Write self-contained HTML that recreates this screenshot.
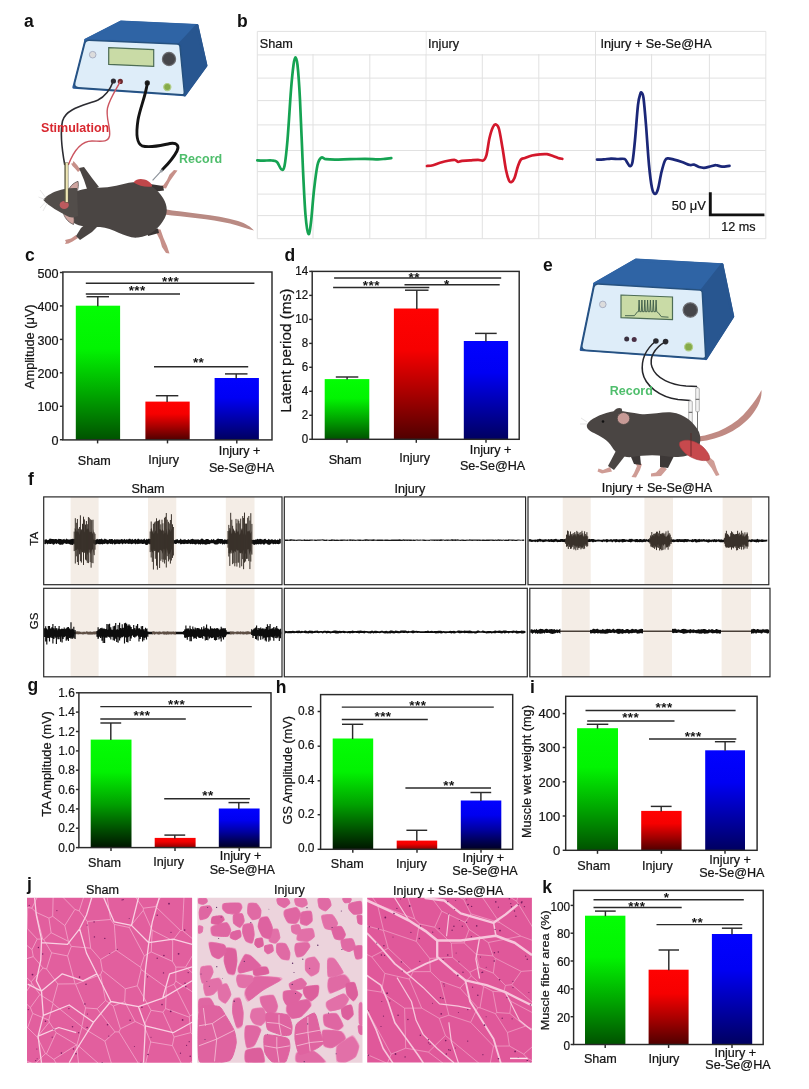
<!DOCTYPE html>
<html lang="en">
<head>
<meta charset="utf-8">
<title>Figure</title>
<style>
html,body{margin:0;padding:0;background:#fff;}
body{width:809px;height:1089px;overflow:hidden;}
svg{display:block;}
svg text{font-family:"Liberation Sans",sans-serif;stroke:#141414;stroke-width:0.22px;}
svg text[font-weight=bold]{stroke:none;}
</style>
</head>
<body>
<svg width="809" height="1089" viewBox="0 0 809 1089">
<defs><linearGradient id="gG" x1="0" y1="0" x2="0" y2="1"><stop offset="0" stop-color="#04fd04"/><stop offset="0.32" stop-color="#02f402"/><stop offset="0.65" stop-color="#00a800"/><stop offset="1" stop-color="#005200"/></linearGradient><linearGradient id="gR" x1="0" y1="0" x2="0" y2="1"><stop offset="0" stop-color="#ff0202"/><stop offset="0.32" stop-color="#f60000"/><stop offset="0.65" stop-color="#a80000"/><stop offset="1" stop-color="#500000"/></linearGradient><linearGradient id="gB" x1="0" y1="0" x2="0" y2="1"><stop offset="0" stop-color="#0202ff"/><stop offset="0.32" stop-color="#0000f4"/><stop offset="0.65" stop-color="#0000ac"/><stop offset="1" stop-color="#000060"/></linearGradient><linearGradient id="gGk" x1="0" y1="0" x2="0" y2="1"><stop offset="0" stop-color="#04fd04"/><stop offset="0.3" stop-color="#02f202"/><stop offset="0.6" stop-color="#00a000"/><stop offset="0.85" stop-color="#004800"/><stop offset="1" stop-color="#001600"/></linearGradient><linearGradient id="gRk" x1="0" y1="0" x2="0" y2="1"><stop offset="0" stop-color="#ff0202"/><stop offset="0.4" stop-color="#f00000"/><stop offset="1" stop-color="#8a0000"/></linearGradient><linearGradient id="gBk" x1="0" y1="0" x2="0" y2="1"><stop offset="0" stop-color="#0202ff"/><stop offset="0.3" stop-color="#0000f0"/><stop offset="0.6" stop-color="#0000a0"/><stop offset="0.85" stop-color="#000050"/><stop offset="1" stop-color="#000024"/></linearGradient></defs>
<rect width="809" height="1089" fill="#fff"/>
<g id="pa">
<path d="M73.6 87.4 L85.6 40.2 L121 22 L197 25.5 L206 65.5 L184.6 95 Z" fill="#2a5a98" stroke="#2a5a98" stroke-width="2.6" stroke-linejoin="round"/>
<path d="M85.6 40.2 L121 22 L197 25.5 L179.8 44 Z" fill="#2f64a5" stroke="#2f64a5" stroke-width="3" stroke-linejoin="round"/>
<path d="M179.8 44 L197 25.5 L206 65.5 L184.6 95 Z" fill="#285690" stroke="#285690" stroke-width="3" stroke-linejoin="round"/>
<path d="M78.6 87.7Q73.6 87.4 74.8 82.6L84.7 43.6Q85.6 40.2 89.1 40.3L177.3 43.9Q179.8 44 180 46.5L184.3 92Q184.6 95 181.6 94.8Z" fill="#deedf9" stroke="#26517f" stroke-width="1.5" stroke-linejoin="round"/>
<path d="M108.7 47.6 L153.7 49.6 L153.7 66.4 L108.7 64.4 Z" fill="#c9dba6" stroke="#4d6d55" stroke-width="1.2"/>
<circle cx="169" cy="59" r="6.6" fill="#46464a" stroke="#6c6c70" stroke-width="1.2"/>
<circle cx="92.7" cy="54.7" r="3.3" fill="#dcdcdc" stroke="#a9b0c4" stroke-width="1"/>
<circle cx="167.3" cy="87.1" r="3.6" fill="#86ab4a" stroke="#b3cf8a" stroke-width="1.2"/>
<circle cx="113.4" cy="81" r="2.6" fill="#2b2b33"/>
<circle cx="120.3" cy="81.4" r="2.6" fill="#6b2a2e"/>
<circle cx="147.3" cy="82.9" r="2.6" fill="#222"/>
<path d="M113.4 81 C110 90 106 96 98 100 C86 105 66 108 62.5 121 C60 133 62 150 64.8 165" fill="none" stroke="#2c2c32" stroke-width="1.6"/>
<path d="M120.3 81.4 C116 90 110 98 107.5 108 C105.5 118 111 128 109.5 136 C108 143 100 141 92 141 C82 141 74 150 68.3 165" fill="none" stroke="#cc5560" stroke-width="1.4"/>
<path d="M147.3 83 C146 95 140 108 138 120 C136 133 136 143 142 145.8 C150 148.5 160 145.5 170 143.5 C177 142.3 179.5 146 177 151 C174 157 168 164 162.5 169.6" fill="none" stroke="#141414" stroke-width="2.9" stroke-linecap="round"/>
<path d="M162.5 169.6 L152.6 180.4" stroke="#8a9098" stroke-width="1.1" fill="none"/>
<circle cx="161.2" cy="171" r="1.5" fill="#9aa0a6"/>
<text x="41.1" y="131.5" font-size="12.5" fill="#d8272f" font-weight="bold">Stimulation</text>
<text x="179.1" y="163.4" font-size="12.5" fill="#4fbe6c" font-weight="bold">Record</text>
<path d="M164 209 C185 213 215 214 238 221 C246 223.5 251 227 254 230.5 C248 229 240 226 230 223.5 C210 219 185 217 164 214.5 Z" fill="#b98a83"/>
<path d="M158 187 L166 188.5 L170 181 L173.5 176 L177.5 170.5 L174 170 L169.5 174.5 L167 180 L163.5 185 Z" fill="#c79089"/>
<path d="M155 229 L160.5 229.5 L163.5 238 L167 246 L169.5 253.5 L166 253 L162 247 L160 240 L157 234 Z" fill="#c79089"/>
<path d="M80.5 170 L77.5 165.5 L73.5 161 L72.5 163.5 L71 163.5 L72.5 166 L75 168.5 L78 172 Z" fill="#c79089"/>
<path d="M76 235 L71 238.5 L65 240 L66 242 L65 244 L68.5 243.5 L72.5 241.5 L78 238 Z" fill="#c79089"/>
<path d="M79 168 L84 167 L92 178 L99 187 L88 192 L84 180 Z" fill="#4a4543"/>
<path d="M76 236 L81 228 L88 222 L98 226 L92 232 L80 240 Z" fill="#4a4543"/>
<path d="M150 184 L163 186 L164 190.5 L152 192 Z" fill="#3a3534"/>
<path d="M146 230 L158 228.5 L159 233 L148 236 Z" fill="#3a3534"/>
<path d="M72 194 C80 188 92 188 103 187.5 C116 187 128 181 140 182 C150 183 158 190 163 198 C168 206 168 214 163 221 C158 229 150 236 138 237.5 C126 239 114 228 100 227 C90 226.5 80 228 73 222 C67 216 66 201 72 194 Z" fill="#4a4543"/>
<path d="M133.5 182.5 C137 178 143 178.5 148 181 C151 183 152.5 185 152 186.5 C146 187.5 139 186 133.5 182.5 Z" fill="#c0474a"/>
<path d="M67.5 193 C69 187 73 183 78 181.3 C79 186 78 191 75 195 Z" fill="#cfa5a0" stroke="#4a4543" stroke-width="0.7"/>
<path d="M63 211.5 C64 217 67.5 222 73.5 224.5 C75 220 74 215 70.5 211 Z" fill="#cfa5a0" stroke="#4a4543" stroke-width="0.7"/>
<path d="M43.4 200 C45 196.5 51 193.2 57 191 C63 188.8 70 187.6 77 188 L78 216 C74 218 70 218 66 215.5 C60 212 49 206.5 43.4 200 Z" fill="#524d4a"/>
<ellipse cx="64.2" cy="205" rx="4.6" ry="4" fill="#bd5a5e"/>
<path d="M46 198 L40 190 M45 199.5 L38.5 197 M45.5 202 L40 208 M47 203.5 L43 211" stroke="#cfcfcf" stroke-width="0.5" fill="none"/>
<path d="M66.4 162.5 V202.5" stroke="#5a5840" stroke-width="4" fill="none"/>
<path d="M66.8 163 V202" stroke="#efe7b6" stroke-width="2.2" fill="none"/>
</g>
<g id="pb">
<path d="M257.3 31.4V238.7M313 31.4V238.7M369.8 31.4V238.7M426 31.4V238.7M482.3 31.4V238.7M538.8 31.4V238.7M595.5 31.4V238.7M651.6 31.4V238.7M709.4 31.4V238.7M765.8 31.4V238.7M257.3 31.4H765.8M257.3 54.9H765.8M257.3 78.1H765.8M257.3 100.6H765.8M257.3 124.9H765.8M257.3 150.5H765.8M257.3 171.6H765.8M257.3 194.1H765.8M257.3 215.6H765.8M257.3 238.7H765.8" stroke="#e1e1e1" stroke-width="1" fill="none"/>
<rect x="258" y="32" width="167.5" height="22" fill="#fff"/>
<rect x="427" y="32" width="168" height="22" fill="#fff"/>
<rect x="596.2" y="32" width="169" height="22" fill="#fff"/>
<text x="259.7" y="47.7" font-size="12.7" fill="#141414">Sham</text>
<text x="428" y="47.7" font-size="12.7" fill="#141414">Injury</text>
<text x="600.4" y="47.7" font-size="12.7" fill="#141414">Injury + Se-Se@HA</text>
<path d="M257.3 160.3C258.4 160.4 261.6 160.6 264 160.6C266.4 160.6 269.8 160.3 272 160.5C274.2 160.7 275.4 160.5 277 162C278.6 163.5 280.1 168.6 281.3 169.3C282.6 170 283.5 170.9 284.5 166C285.5 161.1 286.4 152.7 287.5 140C288.6 127.3 290 102.5 291 90C292 77.5 292.8 70.4 293.5 65C294.2 59.6 294.7 57.4 295.4 57.4C296.1 57.4 296.7 57.9 297.5 65C298.3 72.1 299.1 82.5 300 100C300.9 117.5 302.1 150.8 303 170C303.9 189.2 304.6 204.3 305.5 215C306.4 225.7 307.6 232.8 308.5 234C309.4 235.2 310.1 229.3 311 222C311.9 214.7 312.9 199.5 314 190C315.1 180.5 316.3 170.4 317.5 165C318.7 159.6 319.9 158.6 321.3 157.6C322.7 156.6 323.7 158.9 326 159.2C328.3 159.5 331 159.6 335 159.6C339 159.6 345 159.3 350 159.2C355 159.1 360.3 158.8 365 158.8C369.7 158.8 374.7 159.3 378 159.3C381.3 159.3 382.8 159 385 158.8C387.2 158.6 390.2 158.3 391.3 158.2" stroke="#15a352" stroke-width="2.7" fill="none" stroke-linecap="round" stroke-linejoin="round"/>
<path d="M427 166C428 165.9 430.8 165.7 433 165.2C435.2 164.7 437.5 163.5 440 162.8C442.5 162.1 445.5 161.3 448 160.8C450.5 160.3 453.3 159.8 455 160C456.7 160.2 456.8 161.7 458 161.8C459.2 161.9 460 161 462 160.8C464 160.6 467.3 160.6 470 160.4C472.7 160.2 475.8 159.8 478 159.8C480.2 159.8 482.1 161.2 483.5 160.4C484.9 159.6 485.5 158.7 486.5 155C487.5 151.3 488.4 142.7 489.5 138C490.6 133.3 491.9 129.2 493 127C494.1 124.8 495 124.2 496 124.5C497 124.8 497.9 125.1 499 129C500.1 132.9 501.3 141.2 502.5 148C503.7 154.8 504.9 164.6 506 170C507.1 175.4 508.1 178.5 509 180.5C509.9 182.5 510.6 182.4 511.5 182C512.4 181.6 513.4 180.7 514.5 178C515.6 175.3 516.9 169.1 518 166C519.1 162.9 519.8 160.8 521 159.5C522.2 158.2 523.2 158.7 525 158C526.8 157.3 529.5 156.1 532 155.5C534.5 154.9 537.5 154.5 540 154.3C542.5 154.1 544.8 153.9 547 154.2C549.2 154.5 551.2 155.4 553 156C554.8 156.6 556.5 157.5 558 158C559.5 158.5 561.6 158.7 562.3 158.8" stroke="#d3182c" stroke-width="2.7" fill="none" stroke-linecap="round" stroke-linejoin="round"/>
<path d="M597 159.6C598.2 159.6 601.7 159.6 604 159.4C606.3 159.2 608.7 158.7 611 158.6C613.3 158.5 615.7 158.9 618 159C620.3 159.1 623 158.3 624.6 159C626.2 159.7 626.6 161.8 627.5 163C628.4 164.2 629.2 166.4 630 166.2C630.8 166 631.7 166.4 632.5 162C633.3 157.6 634.1 149.5 635 140C635.9 130.5 637.1 112.7 638 105C638.9 97.3 639.7 96 640.3 94C640.9 92 641.1 92 641.6 92.7C642.1 93.4 642.8 92.6 643.5 98C644.2 103.4 645.1 113.8 646 125C646.9 136.2 648 154.5 649 165C650 175.5 651 183.2 652 188C653 192.8 654 193.8 655 194C656 194.2 656.9 192.7 658 189C659.1 185.3 660.3 176.8 661.5 172C662.7 167.2 663.9 162.8 665 160.5C666.1 158.2 666.5 158.5 668 158.3C669.5 158.2 671.7 159 674 159.6C676.3 160.2 679.3 161.1 682 162C684.7 162.9 688 164.6 690 165C692 165.4 692.5 164.3 694 164.6C695.5 164.9 697.3 166.5 699 167C700.7 167.5 702 167.9 704 167.8C706 167.7 709 166.7 711 166.3C713 165.9 714.2 165.1 716 165.2C717.8 165.2 719.8 166.5 722 166.6C724.2 166.7 728.2 165.9 729.5 165.8" stroke="#1b2778" stroke-width="2.7" fill="none" stroke-linecap="round" stroke-linejoin="round"/>
<path d="M710.3 192.2V214.9H764.4" stroke="#111" stroke-width="2.9" fill="none"/>
<text x="705.8" y="209.7" font-size="12.9" fill="#141414" text-anchor="end">50 μV</text>
<text x="721.3" y="230.5" font-size="12.6" fill="#141414">12 ms</text>
</g>
<g id="pc">
<rect x="75.8" y="305.7" width="44.3" height="134.2" fill="url(#gG)"/>
<rect x="145.4" y="401.6" width="44.3" height="38.3" fill="url(#gR)"/>
<rect x="214.6" y="378" width="44.3" height="61.9" fill="url(#gB)"/>
<line x1="97.8" y1="296.7" x2="97.8" y2="306.2" stroke="#2a2a2a" stroke-width="1.45"/>
<line x1="86.5" y1="296.7" x2="109" y2="296.7" stroke="#2a2a2a" stroke-width="1.45"/>
<line x1="167.1" y1="395.7" x2="167.1" y2="402.1" stroke="#2a2a2a" stroke-width="1.45"/>
<line x1="155.8" y1="395.7" x2="178.3" y2="395.7" stroke="#2a2a2a" stroke-width="1.45"/>
<line x1="236.2" y1="373.9" x2="236.2" y2="378.5" stroke="#2a2a2a" stroke-width="1.45"/>
<line x1="225" y1="373.9" x2="247.5" y2="373.9" stroke="#2a2a2a" stroke-width="1.45"/>
<rect x="62.9" y="272" width="209.1" height="167.9" fill="none" stroke="#2a2a2a" stroke-width="1.45"/>
<line x1="59.9" y1="439.7" x2="62.9" y2="439.7" stroke="#2a2a2a" stroke-width="1.45"/>
<text font-size="13" fill="#141414" text-anchor="end" transform="translate(58.6 444.9) scale(0.97 1)">0</text>
<line x1="59.9" y1="406.3" x2="62.9" y2="406.3" stroke="#2a2a2a" stroke-width="1.45"/>
<text font-size="13" fill="#141414" text-anchor="end" transform="translate(58.6 411.4) scale(0.97 1)">100</text>
<line x1="59.9" y1="372.8" x2="62.9" y2="372.8" stroke="#2a2a2a" stroke-width="1.45"/>
<text font-size="13" fill="#141414" text-anchor="end" transform="translate(58.6 378) scale(0.97 1)">200</text>
<line x1="59.9" y1="339.4" x2="62.9" y2="339.4" stroke="#2a2a2a" stroke-width="1.45"/>
<text font-size="13" fill="#141414" text-anchor="end" transform="translate(58.6 344.6) scale(0.97 1)">300</text>
<line x1="59.9" y1="305.9" x2="62.9" y2="305.9" stroke="#2a2a2a" stroke-width="1.45"/>
<text font-size="13" fill="#141414" text-anchor="end" transform="translate(58.6 311.1) scale(0.97 1)">400</text>
<line x1="59.9" y1="272.5" x2="62.9" y2="272.5" stroke="#2a2a2a" stroke-width="1.45"/>
<text font-size="13" fill="#141414" text-anchor="end" transform="translate(58.6 277.7) scale(0.97 1)">500</text>
<line x1="97.6" y1="439.9" x2="97.6" y2="443.4" stroke="#2a2a2a" stroke-width="1.45"/>
<line x1="167.5" y1="439.9" x2="167.5" y2="443.4" stroke="#2a2a2a" stroke-width="1.45"/>
<line x1="236.8" y1="439.9" x2="236.8" y2="443.4" stroke="#2a2a2a" stroke-width="1.45"/>
<line x1="85.8" y1="283.3" x2="254.4" y2="283.3" stroke="#2a2a2a" stroke-width="1.45"/>
<text x="170.6" y="285.6" font-size="13.5" fill="#141414" text-anchor="middle" font-weight="bold" letter-spacing="0.45">***</text>
<line x1="85.8" y1="294" x2="180" y2="294" stroke="#2a2a2a" stroke-width="1.45"/>
<text x="137.2" y="294.9" font-size="13.5" fill="#141414" text-anchor="middle" font-weight="bold" letter-spacing="0.45">***</text>
<line x1="154" y1="366.8" x2="248.2" y2="366.8" stroke="#2a2a2a" stroke-width="1.45"/>
<text x="198.6" y="366.9" font-size="13.5" fill="#141414" text-anchor="middle" font-weight="bold" letter-spacing="0.45">**</text>
<text font-size="12.2" fill="#141414" text-anchor="middle" transform="translate(34.2 346.7) rotate(-90) scale(1.047 1)">Amplitude (μV)</text>
<text x="94.2" y="465.3" font-size="12.6" fill="#141414" text-anchor="middle">Sham</text>
<text x="163.7" y="464.3" font-size="12.6" fill="#141414" text-anchor="middle">Injury</text>
<text x="239.5" y="455" font-size="12.6" fill="#141414" text-anchor="middle">Injury +</text>
<text x="241.6" y="471.5" font-size="12.6" fill="#141414" text-anchor="middle">Se-Se@HA</text>
</g>
<g id="pd">
<rect x="324.7" y="379.1" width="44.6" height="60.2" fill="url(#gG)"/>
<rect x="393.9" y="308.5" width="44.7" height="130.8" fill="url(#gR)"/>
<rect x="463.8" y="341" width="44.3" height="98.3" fill="url(#gB)"/>
<line x1="347.1" y1="377" x2="347.1" y2="379.6" stroke="#2a2a2a" stroke-width="1.45"/>
<line x1="335.8" y1="377" x2="358.3" y2="377" stroke="#2a2a2a" stroke-width="1.45"/>
<line x1="416.8" y1="290.2" x2="416.8" y2="309" stroke="#2a2a2a" stroke-width="1.45"/>
<line x1="405" y1="290.2" x2="428.5" y2="290.2" stroke="#2a2a2a" stroke-width="1.45"/>
<line x1="485.9" y1="333.4" x2="485.9" y2="341.5" stroke="#2a2a2a" stroke-width="1.45"/>
<line x1="475" y1="333.4" x2="496.7" y2="333.4" stroke="#2a2a2a" stroke-width="1.45"/>
<rect x="312.2" y="271.4" width="207" height="167.9" fill="none" stroke="#2a2a2a" stroke-width="1.45"/>
<line x1="309.2" y1="439.3" x2="312.2" y2="439.3" stroke="#2a2a2a" stroke-width="1.45"/>
<text font-size="12.3" fill="#141414" text-anchor="end" transform="translate(308.1 442.8) scale(0.94 1)">0</text>
<line x1="309.2" y1="415.3" x2="312.2" y2="415.3" stroke="#2a2a2a" stroke-width="1.45"/>
<text font-size="12.3" fill="#141414" text-anchor="end" transform="translate(308.1 418.8) scale(0.94 1)">2</text>
<line x1="309.2" y1="391.3" x2="312.2" y2="391.3" stroke="#2a2a2a" stroke-width="1.45"/>
<text font-size="12.3" fill="#141414" text-anchor="end" transform="translate(308.1 394.9) scale(0.94 1)">4</text>
<line x1="309.2" y1="367.3" x2="312.2" y2="367.3" stroke="#2a2a2a" stroke-width="1.45"/>
<text font-size="12.3" fill="#141414" text-anchor="end" transform="translate(308.1 370.9) scale(0.94 1)">6</text>
<line x1="309.2" y1="343.4" x2="312.2" y2="343.4" stroke="#2a2a2a" stroke-width="1.45"/>
<text font-size="12.3" fill="#141414" text-anchor="end" transform="translate(308.1 346.9) scale(0.94 1)">8</text>
<line x1="309.2" y1="319.4" x2="312.2" y2="319.4" stroke="#2a2a2a" stroke-width="1.45"/>
<text font-size="12.3" fill="#141414" text-anchor="end" transform="translate(308.1 322.9) scale(0.94 1)">10</text>
<line x1="309.2" y1="295.4" x2="312.2" y2="295.4" stroke="#2a2a2a" stroke-width="1.45"/>
<text font-size="12.3" fill="#141414" text-anchor="end" transform="translate(308.1 298.9) scale(0.94 1)">12</text>
<line x1="309.2" y1="271.4" x2="312.2" y2="271.4" stroke="#2a2a2a" stroke-width="1.45"/>
<text font-size="12.3" fill="#141414" text-anchor="end" transform="translate(308.1 274.9) scale(0.94 1)">14</text>
<line x1="347" y1="439.3" x2="347" y2="442.8" stroke="#2a2a2a" stroke-width="1.45"/>
<line x1="416.3" y1="439.3" x2="416.3" y2="442.8" stroke="#2a2a2a" stroke-width="1.45"/>
<line x1="486" y1="439.3" x2="486" y2="442.8" stroke="#2a2a2a" stroke-width="1.45"/>
<line x1="334.1" y1="277.9" x2="501.2" y2="277.9" stroke="#2a2a2a" stroke-width="1.45"/>
<text x="414.2" y="282.3" font-size="13.5" fill="#141414" text-anchor="middle" font-weight="bold" letter-spacing="0.45">**</text>
<line x1="333.1" y1="287.5" x2="429.3" y2="287.5" stroke="#2a2a2a" stroke-width="1.45"/>
<text x="371.4" y="289.7" font-size="13.5" fill="#141414" text-anchor="middle" font-weight="bold" letter-spacing="0.45">***</text>
<line x1="404.5" y1="284.8" x2="499.7" y2="284.8" stroke="#2a2a2a" stroke-width="1.45"/>
<text x="446.8" y="288.7" font-size="13.5" fill="#141414" text-anchor="middle" font-weight="bold" letter-spacing="0.45">*</text>
<text font-size="14.7" fill="#141414" text-anchor="middle" transform="translate(291.2 350.7) rotate(-90) scale(1.04 1)">Latent period (ms)</text>
<text x="345.1" y="463.6" font-size="12.6" fill="#141414" text-anchor="middle">Sham</text>
<text x="414.7" y="462.2" font-size="12.6" fill="#141414" text-anchor="middle">Injury</text>
<text x="490.5" y="454.2" font-size="12.6" fill="#141414" text-anchor="middle">Injury +</text>
<text x="492.6" y="469.8" font-size="12.6" fill="#141414" text-anchor="middle">Se-Se@HA</text>
</g>
<g id="pg">
<rect x="90.7" y="739.6" width="40.8" height="108" fill="url(#gGk)"/>
<rect x="154.7" y="837.9" width="40.9" height="9.7" fill="url(#gRk)"/>
<rect x="218.8" y="808.5" width="40.8" height="39.1" fill="url(#gBk)"/>
<line x1="110.8" y1="723" x2="110.8" y2="740.1" stroke="#2a2a2a" stroke-width="1.45"/>
<line x1="100.4" y1="723" x2="121.2" y2="723" stroke="#2a2a2a" stroke-width="1.45"/>
<line x1="174.8" y1="835.1" x2="174.8" y2="838.4" stroke="#2a2a2a" stroke-width="1.45"/>
<line x1="164.4" y1="835.1" x2="185.2" y2="835.1" stroke="#2a2a2a" stroke-width="1.45"/>
<line x1="238.8" y1="802.6" x2="238.8" y2="809" stroke="#2a2a2a" stroke-width="1.45"/>
<line x1="228.5" y1="802.6" x2="249.2" y2="802.6" stroke="#2a2a2a" stroke-width="1.45"/>
<rect x="78.9" y="692.8" width="192.1" height="154.8" fill="none" stroke="#2a2a2a" stroke-width="1.45"/>
<line x1="75.9" y1="847.6" x2="78.9" y2="847.6" stroke="#2a2a2a" stroke-width="1.45"/>
<text font-size="12.7" fill="#141414" text-anchor="end" transform="translate(74.8 851.7) scale(0.94 1)">0.0</text>
<line x1="75.9" y1="828.2" x2="78.9" y2="828.2" stroke="#2a2a2a" stroke-width="1.45"/>
<text font-size="12.7" fill="#141414" text-anchor="end" transform="translate(74.8 832.3) scale(0.94 1)">0.2</text>
<line x1="75.9" y1="808.9" x2="78.9" y2="808.9" stroke="#2a2a2a" stroke-width="1.45"/>
<text font-size="12.7" fill="#141414" text-anchor="end" transform="translate(74.8 813) scale(0.94 1)">0.4</text>
<line x1="75.9" y1="789.5" x2="78.9" y2="789.5" stroke="#2a2a2a" stroke-width="1.45"/>
<text font-size="12.7" fill="#141414" text-anchor="end" transform="translate(74.8 793.6) scale(0.94 1)">0.6</text>
<line x1="75.9" y1="770.2" x2="78.9" y2="770.2" stroke="#2a2a2a" stroke-width="1.45"/>
<text font-size="12.7" fill="#141414" text-anchor="end" transform="translate(74.8 774.3) scale(0.94 1)">0.8</text>
<line x1="75.9" y1="750.9" x2="78.9" y2="750.9" stroke="#2a2a2a" stroke-width="1.45"/>
<text font-size="12.7" fill="#141414" text-anchor="end" transform="translate(74.8 754.9) scale(0.94 1)">1.0</text>
<line x1="75.9" y1="731.5" x2="78.9" y2="731.5" stroke="#2a2a2a" stroke-width="1.45"/>
<text font-size="12.7" fill="#141414" text-anchor="end" transform="translate(74.8 735.6) scale(0.94 1)">1.2</text>
<line x1="75.9" y1="712.1" x2="78.9" y2="712.1" stroke="#2a2a2a" stroke-width="1.45"/>
<text font-size="12.7" fill="#141414" text-anchor="end" transform="translate(74.8 716.2) scale(0.94 1)">1.4</text>
<line x1="75.9" y1="692.8" x2="78.9" y2="692.8" stroke="#2a2a2a" stroke-width="1.45"/>
<text font-size="12.7" fill="#141414" text-anchor="end" transform="translate(74.8 696.9) scale(0.94 1)">1.6</text>
<line x1="111" y1="847.6" x2="111" y2="851.1" stroke="#2a2a2a" stroke-width="1.45"/>
<line x1="175" y1="847.6" x2="175" y2="851.1" stroke="#2a2a2a" stroke-width="1.45"/>
<line x1="239.2" y1="847.6" x2="239.2" y2="851.1" stroke="#2a2a2a" stroke-width="1.45"/>
<line x1="100.3" y1="706.6" x2="251.8" y2="706.6" stroke="#2a2a2a" stroke-width="1.45"/>
<text x="176.6" y="708.8" font-size="13.5" fill="#141414" text-anchor="middle" font-weight="bold" letter-spacing="0.45">***</text>
<line x1="100.3" y1="718.9" x2="185.8" y2="718.9" stroke="#2a2a2a" stroke-width="1.45"/>
<text x="142" y="720.1" font-size="13.5" fill="#141414" text-anchor="middle" font-weight="bold" letter-spacing="0.45">***</text>
<line x1="164.2" y1="798.7" x2="249.9" y2="798.7" stroke="#2a2a2a" stroke-width="1.45"/>
<text x="208" y="800.2" font-size="13.5" fill="#141414" text-anchor="middle" font-weight="bold" letter-spacing="0.45">**</text>
<text font-size="12.2" fill="#141414" text-anchor="middle" transform="translate(51.2 764) rotate(-90) scale(1.047 1)">TA Amplitude (mV)</text>
<text x="104.5" y="866.6" font-size="12.6" fill="#141414" text-anchor="middle">Sham</text>
<text x="168.6" y="866.3" font-size="12.6" fill="#141414" text-anchor="middle">Injury</text>
<text x="240.6" y="860.4" font-size="12.6" fill="#141414" text-anchor="middle">Injury +</text>
<text x="242.3" y="873.5" font-size="12.6" fill="#141414" text-anchor="middle">Se-Se@HA</text>
</g>
<g id="ph">
<rect x="332.7" y="738.5" width="40.5" height="110.8" fill="url(#gGk)"/>
<rect x="396.7" y="840.6" width="40.5" height="8.7" fill="url(#gRk)"/>
<rect x="460.8" y="800.5" width="40.5" height="48.8" fill="url(#gBk)"/>
<line x1="352.6" y1="724.3" x2="352.6" y2="739" stroke="#2a2a2a" stroke-width="1.45"/>
<line x1="342" y1="724.3" x2="363.2" y2="724.3" stroke="#2a2a2a" stroke-width="1.45"/>
<line x1="416.8" y1="830.3" x2="416.8" y2="841.1" stroke="#2a2a2a" stroke-width="1.45"/>
<line x1="406.4" y1="830.3" x2="427.2" y2="830.3" stroke="#2a2a2a" stroke-width="1.45"/>
<line x1="480.9" y1="792.5" x2="480.9" y2="801" stroke="#2a2a2a" stroke-width="1.45"/>
<line x1="470.5" y1="792.5" x2="491.2" y2="792.5" stroke="#2a2a2a" stroke-width="1.45"/>
<rect x="320.6" y="694.6" width="192.1" height="154.7" fill="none" stroke="#2a2a2a" stroke-width="1.45"/>
<line x1="317.6" y1="849.3" x2="320.6" y2="849.3" stroke="#2a2a2a" stroke-width="1.45"/>
<text font-size="12.7" fill="#141414" text-anchor="end" transform="translate(314.5 852.4) scale(0.94 1)">0.0</text>
<line x1="317.6" y1="814.7" x2="320.6" y2="814.7" stroke="#2a2a2a" stroke-width="1.45"/>
<text font-size="12.7" fill="#141414" text-anchor="end" transform="translate(314.5 817.8) scale(0.94 1)">0.2</text>
<line x1="317.6" y1="780.8" x2="320.6" y2="780.8" stroke="#2a2a2a" stroke-width="1.45"/>
<text font-size="12.7" fill="#141414" text-anchor="end" transform="translate(314.5 783.9) scale(0.94 1)">0.4</text>
<line x1="317.6" y1="746.2" x2="320.6" y2="746.2" stroke="#2a2a2a" stroke-width="1.45"/>
<text font-size="12.7" fill="#141414" text-anchor="end" transform="translate(314.5 749.3) scale(0.94 1)">0.6</text>
<line x1="317.6" y1="711.5" x2="320.6" y2="711.5" stroke="#2a2a2a" stroke-width="1.45"/>
<text font-size="12.7" fill="#141414" text-anchor="end" transform="translate(314.5 714.6) scale(0.94 1)">0.8</text>
<line x1="352.8" y1="849.3" x2="352.8" y2="852.8" stroke="#2a2a2a" stroke-width="1.45"/>
<line x1="417" y1="849.3" x2="417" y2="852.8" stroke="#2a2a2a" stroke-width="1.45"/>
<line x1="481" y1="849.3" x2="481" y2="852.8" stroke="#2a2a2a" stroke-width="1.45"/>
<line x1="341.8" y1="707.1" x2="493.8" y2="707.1" stroke="#2a2a2a" stroke-width="1.45"/>
<text x="417.9" y="709.5" font-size="13.5" fill="#141414" text-anchor="middle" font-weight="bold" letter-spacing="0.45">***</text>
<line x1="341.8" y1="719.4" x2="427.8" y2="719.4" stroke="#2a2a2a" stroke-width="1.45"/>
<text x="383" y="720.6" font-size="13.5" fill="#141414" text-anchor="middle" font-weight="bold" letter-spacing="0.45">***</text>
<line x1="405.4" y1="788" x2="491" y2="788" stroke="#2a2a2a" stroke-width="1.45"/>
<text x="448.9" y="789.7" font-size="13.5" fill="#141414" text-anchor="middle" font-weight="bold" letter-spacing="0.45">**</text>
<text font-size="12.1" fill="#141414" text-anchor="middle" transform="translate(292.1 770.3) rotate(-90) scale(1.047 1)">GS Amplitude (mV)</text>
<text x="347.2" y="868" font-size="12.6" fill="#141414" text-anchor="middle">Sham</text>
<text x="411.3" y="867.7" font-size="12.6" fill="#141414" text-anchor="middle">Injury</text>
<text x="483.3" y="862" font-size="12.6" fill="#141414" text-anchor="middle">Injury +</text>
<text x="485" y="875" font-size="12.6" fill="#141414" text-anchor="middle">Se-Se@HA</text>
</g>
<g id="pi">
<rect x="577.1" y="728.2" width="40.9" height="122.1" fill="url(#gG)"/>
<rect x="641.2" y="810.9" width="40.4" height="39.4" fill="url(#gR)"/>
<rect x="705.2" y="750.3" width="39.8" height="100" fill="url(#gB)"/>
<line x1="597.5" y1="724.3" x2="597.5" y2="728.7" stroke="#2a2a2a" stroke-width="1.45"/>
<line x1="586.8" y1="724.3" x2="608.3" y2="724.3" stroke="#2a2a2a" stroke-width="1.45"/>
<line x1="661.2" y1="806.4" x2="661.2" y2="811.4" stroke="#2a2a2a" stroke-width="1.45"/>
<line x1="650.8" y1="806.4" x2="671.6" y2="806.4" stroke="#2a2a2a" stroke-width="1.45"/>
<line x1="725.1" y1="741.7" x2="725.1" y2="750.8" stroke="#2a2a2a" stroke-width="1.45"/>
<line x1="714.9" y1="741.7" x2="735.3" y2="741.7" stroke="#2a2a2a" stroke-width="1.45"/>
<rect x="565.7" y="696.3" width="191.4" height="154" fill="none" stroke="#2a2a2a" stroke-width="1.45"/>
<line x1="562.7" y1="850.3" x2="565.7" y2="850.3" stroke="#2a2a2a" stroke-width="1.45"/>
<text font-size="13.4" fill="#141414" text-anchor="end" transform="translate(560.3 855.1) scale(0.97 1)">0</text>
<line x1="562.7" y1="816" x2="565.7" y2="816" stroke="#2a2a2a" stroke-width="1.45"/>
<text font-size="13.4" fill="#141414" text-anchor="end" transform="translate(560.3 820.8) scale(0.97 1)">100</text>
<line x1="562.7" y1="781.8" x2="565.7" y2="781.8" stroke="#2a2a2a" stroke-width="1.45"/>
<text font-size="13.4" fill="#141414" text-anchor="end" transform="translate(560.3 786.6) scale(0.97 1)">200</text>
<line x1="562.7" y1="747.5" x2="565.7" y2="747.5" stroke="#2a2a2a" stroke-width="1.45"/>
<text font-size="13.4" fill="#141414" text-anchor="end" transform="translate(560.3 752.3) scale(0.97 1)">300</text>
<line x1="562.7" y1="713.6" x2="565.7" y2="713.6" stroke="#2a2a2a" stroke-width="1.45"/>
<text font-size="13.4" fill="#141414" text-anchor="end" transform="translate(560.3 718.4) scale(0.97 1)">400</text>
<line x1="597.5" y1="850.3" x2="597.5" y2="853.8" stroke="#2a2a2a" stroke-width="1.45"/>
<line x1="661.4" y1="850.3" x2="661.4" y2="853.8" stroke="#2a2a2a" stroke-width="1.45"/>
<line x1="725" y1="850.3" x2="725" y2="853.8" stroke="#2a2a2a" stroke-width="1.45"/>
<line x1="585.5" y1="710.5" x2="735.6" y2="710.5" stroke="#2a2a2a" stroke-width="1.45"/>
<text x="664.1" y="711.7" font-size="13.5" fill="#141414" text-anchor="middle" font-weight="bold" letter-spacing="0.45">***</text>
<line x1="587.2" y1="720.9" x2="674.5" y2="720.9" stroke="#2a2a2a" stroke-width="1.45"/>
<text x="630.7" y="722.4" font-size="13.5" fill="#141414" text-anchor="middle" font-weight="bold" letter-spacing="0.45">***</text>
<line x1="649" y1="739" x2="736.3" y2="739" stroke="#2a2a2a" stroke-width="1.45"/>
<text x="693.2" y="741.4" font-size="13.5" fill="#141414" text-anchor="middle" font-weight="bold" letter-spacing="0.45">***</text>
<text font-size="12.1" fill="#141414" text-anchor="middle" transform="translate(531.2 771.6) rotate(-90) scale(1.047 1)">Muscle wet weight (mg)</text>
<text x="593.7" y="870" font-size="12.6" fill="#141414" text-anchor="middle">Sham</text>
<text x="657.4" y="869.7" font-size="12.6" fill="#141414" text-anchor="middle">Injury</text>
<text x="730" y="863.8" font-size="12.6" fill="#141414" text-anchor="middle">Injury +</text>
<text x="731.8" y="876.6" font-size="12.6" fill="#141414" text-anchor="middle">Se-Se@HA</text>
</g>
<g id="pk">
<rect x="585" y="915.7" width="40.4" height="128.8" fill="url(#gG)"/>
<rect x="648.6" y="969.7" width="40" height="74.8" fill="url(#gR)"/>
<rect x="711.9" y="934" width="40.3" height="110.5" fill="url(#gB)"/>
<line x1="605.4" y1="911.1" x2="605.4" y2="916.2" stroke="#2a2a2a" stroke-width="1.45"/>
<line x1="595" y1="911.1" x2="615.7" y2="911.1" stroke="#2a2a2a" stroke-width="1.45"/>
<line x1="668.8" y1="950" x2="668.8" y2="970.2" stroke="#2a2a2a" stroke-width="1.45"/>
<line x1="658.6" y1="950" x2="679" y2="950" stroke="#2a2a2a" stroke-width="1.45"/>
<line x1="732" y1="928.2" x2="732" y2="934.5" stroke="#2a2a2a" stroke-width="1.45"/>
<line x1="721.9" y1="928.2" x2="742.2" y2="928.2" stroke="#2a2a2a" stroke-width="1.45"/>
<rect x="573.6" y="890.4" width="189.6" height="154.1" fill="none" stroke="#2a2a2a" stroke-width="1.45"/>
<line x1="570.6" y1="1044.5" x2="573.6" y2="1044.5" stroke="#2a2a2a" stroke-width="1.45"/>
<text font-size="13" fill="#141414" text-anchor="end" transform="translate(570.1 1049.7) scale(0.91 1)">0</text>
<line x1="570.6" y1="1016.7" x2="573.6" y2="1016.7" stroke="#2a2a2a" stroke-width="1.45"/>
<text font-size="13" fill="#141414" text-anchor="end" transform="translate(570.1 1021.9) scale(0.91 1)">20</text>
<line x1="570.6" y1="988.9" x2="573.6" y2="988.9" stroke="#2a2a2a" stroke-width="1.45"/>
<text font-size="13" fill="#141414" text-anchor="end" transform="translate(570.1 994) scale(0.91 1)">40</text>
<line x1="570.6" y1="961" x2="573.6" y2="961" stroke="#2a2a2a" stroke-width="1.45"/>
<text font-size="13" fill="#141414" text-anchor="end" transform="translate(570.1 966.2) scale(0.91 1)">60</text>
<line x1="570.6" y1="933.2" x2="573.6" y2="933.2" stroke="#2a2a2a" stroke-width="1.45"/>
<text font-size="13" fill="#141414" text-anchor="end" transform="translate(570.1 938.4) scale(0.91 1)">80</text>
<line x1="570.6" y1="905.4" x2="573.6" y2="905.4" stroke="#2a2a2a" stroke-width="1.45"/>
<text font-size="13" fill="#141414" text-anchor="end" transform="translate(570.1 910.6) scale(0.91 1)">100</text>
<line x1="605.2" y1="1044.5" x2="605.2" y2="1048" stroke="#2a2a2a" stroke-width="1.45"/>
<line x1="668.6" y1="1044.5" x2="668.6" y2="1048" stroke="#2a2a2a" stroke-width="1.45"/>
<line x1="732" y1="1044.5" x2="732" y2="1048" stroke="#2a2a2a" stroke-width="1.45"/>
<line x1="593.5" y1="899.8" x2="743.8" y2="899.8" stroke="#2a2a2a" stroke-width="1.45"/>
<text x="666.6" y="901.8" font-size="13.5" fill="#141414" text-anchor="middle" font-weight="bold" letter-spacing="0.45">*</text>
<line x1="593.5" y1="907.5" x2="681.7" y2="907.5" stroke="#2a2a2a" stroke-width="1.45"/>
<text x="636.9" y="910.7" font-size="13.5" fill="#141414" text-anchor="middle" font-weight="bold" letter-spacing="0.45">***</text>
<line x1="656.5" y1="924.6" x2="742.3" y2="924.6" stroke="#2a2a2a" stroke-width="1.45"/>
<text x="697.5" y="927.2" font-size="13.5" fill="#141414" text-anchor="middle" font-weight="bold" letter-spacing="0.45">**</text>
<text font-size="11.2" fill="#141414" text-anchor="middle" transform="translate(548.5 970.3) rotate(-90) scale(1.13 1)">Muscle fiber area (%)</text>
<text x="600.4" y="1063" font-size="12.6" fill="#141414" text-anchor="middle">Sham</text>
<text x="664" y="1062.7" font-size="12.6" fill="#141414" text-anchor="middle">Injury</text>
<text x="735.4" y="1056.5" font-size="12.6" fill="#141414" text-anchor="middle">Injury +</text>
<text x="738" y="1069.4" font-size="12.6" fill="#141414" text-anchor="middle">Se-Se@HA</text>
</g>
<g id="pe">
<path d="M581 349.8 L594.6 283.8 L636 260 L722 264.8 L732.8 316.5 L705.8 358.6 Z" fill="#2a5a98" stroke="#2a5a98" stroke-width="2.6" stroke-linejoin="round"/>
<path d="M594.6 283.8 L636 260 L722 264.8 L702.2 290 Z" fill="#2f64a5" stroke="#2f64a5" stroke-width="3" stroke-linejoin="round"/>
<path d="M702.2 290 L722 264.8 L732.8 316.5 L705.8 358.6 Z" fill="#285690" stroke="#285690" stroke-width="3" stroke-linejoin="round"/>
<path d="M586 350.2Q581 349.8 582 344.9L593.9 287.2Q594.6 283.8 598.1 284L699.7 289.9Q702.2 290 702.3 292.5L705.6 355.6Q705.8 358.6 702.8 358.4Z" fill="#deedf9" stroke="#26517f" stroke-width="1.5" stroke-linejoin="round"/>
<path d="M621 295 L672.5 297 L672.5 319.7 L621 317.7 Z" fill="#c9dba6" stroke="#4d6d55" stroke-width="1.2"/>
<path d="M625 315.7 L634.4 315.7 L637.5 311.7 L638.5 311.7 L639.1 300 L639.7 311.7 L641.3 311.7 L641.9 300 L642.5 311.7 L644.2 311.7 L644.8 300 L645.4 311.7 L647 311.7 L647.6 300 L648.2 311.7 L649.8 311.7 L650.4 300 L651 311.7 L652.7 311.7 L653.3 300 L653.9 311.7 L655.5 311.7 L656.1 300 L656.7 311.7 L658.3 312.7 L661.3 316.7 L668.5 317.2" fill="none" stroke="#3d5c48" stroke-width="0.9"/>
<circle cx="690.3" cy="310" r="7.2" fill="#46464a" stroke="#6c6c70" stroke-width="1.2"/>
<circle cx="602.8" cy="304.4" r="3.3" fill="#dcdcdc" stroke="#a9b0c4" stroke-width="1"/>
<circle cx="688.6" cy="346.9" r="4" fill="#86ab4a" stroke="#b3cf8a" stroke-width="1.2"/>
<circle cx="626.7" cy="339" r="2.5" fill="#3b3140"/>
<circle cx="634.2" cy="339.5" r="2.5" fill="#4a2f45"/>
<circle cx="655.9" cy="341" r="2.8" fill="#2a2a30"/>
<circle cx="665.6" cy="341.6" r="2.8" fill="#2a2a30"/>
<path d="M655.9 341 C646 349 641 360 642.5 372 C645 386 660 397 678 399.5 L690 400.5" fill="none" stroke="#26262a" stroke-width="1.5"/>
<path d="M665.6 341.6 C654 348 649 358 652 367 C656 379 672 385 686 386 L697 386.5" fill="none" stroke="#26262a" stroke-width="1.5"/>
<path d="M690.5 399.8 V436" stroke="#777" stroke-width="1" fill="none"/>
<rect x="688.7" y="400.8" width="3.6" height="24" rx="1.2" fill="#f2f2f2" stroke="#9a9a9a" stroke-width="0.7"/>
<path d="M688.7 412.3h3.6" stroke="#555" stroke-width="1" fill="none"/>
<path d="M697.5 386.8 V430" stroke="#777" stroke-width="1" fill="none"/>
<rect x="695.7" y="387.8" width="3.6" height="24" rx="1.2" fill="#f2f2f2" stroke="#9a9a9a" stroke-width="0.7"/>
<path d="M695.7 399.3h3.6" stroke="#555" stroke-width="1" fill="none"/>
<text x="609.8" y="394.9" font-size="12.5" fill="#4fbe6c" font-weight="bold">Record</text>
<path d="M698 436.5 C716 434.5 736 425 748 409.5 C754 402 758.5 396 761.5 390 C762 397 759.5 405 753 413.5 C741 429.5 720 439.5 699 441.5 Z" fill="#c08a83"/>
<path d="M610 467 L603 470 L598.5 468.5 L597.5 471.5 L602 473.5 L612 471.5 Z" fill="#cf9c95"/>
<path d="M634 462 L637 466 L634 473 L631.5 477 L636 477.5 L640 470 L642 464 Z" fill="#cf9c95"/>
<path d="M662 466 L656 472.5 L651 473.5 L651 476.5 L661 476 L667 469 Z" fill="#cf9c95"/>
<path d="M708 456 L714 461 L717 470 L719.5 475 L716 476 L711.5 468 L706 461 Z" fill="#cf9c95"/>
<path d="M618 447 L628 452 L614 470 L608 466 Z" fill="#4a4543"/>
<path d="M628 450 L640 455 L641 465 L634 464 Z" fill="#3d3837"/>
<path d="M660 448 L676 452 L668 468 L660 467 Z" fill="#3d3837"/>
<path d="M587 424.5 C590 419 600 414.5 610 412 C620 409.5 630 413 640 414 C652 415 662 411.5 672 412.5 C684 414 694 422 699 432 C702 440 700 448 694 452 C686 458 674 457.5 664 456 C652 454.5 642 455.5 632 457 C624 458 616 454 612 447 C608 440 600 436 594 433 C589 431 586 428 587 424.5 Z" fill="#4a4543"/>
<path d="M612 416 C613 409.5 618 406.5 621.5 408.5 C623 411 622 416 618 419 Z" fill="#4a4543"/>
<ellipse cx="623.5" cy="418.5" rx="6.3" ry="6" fill="#c79a96" stroke="#4a4543" stroke-width="0.8"/>
<circle cx="603" cy="421.5" r="1.3" fill="#111"/>
<path d="M680 442 C686 438 696 441 703 447 C708 452 711 457 709 460 C702 462 692 459 685 453 C681 449 678 445 680 442 Z" fill="#c7494d" stroke="#a83a40" stroke-width="0.6"/>
<path d="M691 433 V456" stroke="#5a2020" stroke-width="0.7" fill="none"/>
<path d="M587 422 L581 418 M587.5 424 L580 424" stroke="#c8c8c8" stroke-width="0.5" fill="none"/>
</g>
<g id="pf">
<rect x="70.6" y="496.9" width="28" height="87.8" fill="#f4ede6"/>
<rect x="70.6" y="588.3" width="28" height="88.5" fill="#f4ede6"/>
<rect x="148" y="496.9" width="28.3" height="87.8" fill="#f4ede6"/>
<rect x="148" y="588.3" width="28.3" height="88.5" fill="#f4ede6"/>
<rect x="225.8" y="496.9" width="28.7" height="87.8" fill="#f4ede6"/>
<rect x="225.8" y="588.3" width="28.7" height="88.5" fill="#f4ede6"/>
<rect x="562.7" y="496.9" width="28" height="87.8" fill="#f4ede6"/>
<rect x="561.7" y="588.3" width="28" height="88.5" fill="#f4ede6"/>
<rect x="644.4" y="496.9" width="28.6" height="87.8" fill="#f4ede6"/>
<rect x="643.4" y="588.3" width="28.6" height="88.5" fill="#f4ede6"/>
<rect x="722.6" y="496.9" width="29.4" height="87.8" fill="#f4ede6"/>
<rect x="721.6" y="588.3" width="29.4" height="88.5" fill="#f4ede6"/>
<path d="M44.3 539.8L45.4 539.6L46.5 539.2L47.6 540.2L48.7 539.8L49.8 538.5L50.9 538.8L52 539.1L53.1 539.1L54.2 539.3L55.3 539.1L56.4 538.9L57.5 539.7L58.6 538.7L59.7 539L60.8 539L61.9 539.6L63 539.5L64.1 538.7L65.2 540L66.3 538.6L67.4 539.2L68.5 539.4L69.6 539.6L70.7 539.2L71.8 539.1L72.9 538.8L74 539.1L75.1 538.7L76.2 538.7L77.3 539L78.4 538.8L79.5 539.8L80.6 538.8L81.7 540.1L82.8 539.5L83.9 539.7L85 538.7L86.1 539.2L87.2 539L88.3 538.7L89.4 539.4L90.5 539.7L91.6 539.2L92.7 539.9L93.8 539.2L94.9 540.2L96 539.7L97.1 538.7L98.2 539.4L99.3 539.1L100.4 539.3L101.5 538.6L102.6 539.5L103.7 539.8L104.8 538.5L105.9 539.3L107 539.5L108.1 540.2L109.2 539.1L110.3 539.2L111.4 539.1L112.5 539L113.6 540.2L114.7 539.1L115.8 539.8L116.9 539.2L118 539.6L119.1 539.6L120.2 539.7L121.3 538.9L122.4 539.3L123.5 539.7L124.6 538.8L125.7 539.9L126.8 539L127.9 539.7L129 538.8L130.1 538.8L131.2 539.7L132.3 538.7L133.4 539.9L134.5 539.3L135.6 538.8L136.7 539.9L137.8 538.8L138.9 538.8L140 540L141.1 538.9L142.2 539.7L143.3 539.5L144.4 538.6L145.5 540.3L146.6 538.7L147.7 539.5L148.8 538.6L149.9 538.9L151 539.1L152.1 539.8L153.2 539.9L154.3 539.2L155.4 538.8L156.5 538.7L157.6 538.6L158.7 538.7L159.8 540.2L160.9 540L162 539.1L163.1 539.5L164.2 539.2L165.3 539.8L166.4 539.4L167.5 539.6L168.6 539.3L169.7 540L170.8 538.6L171.9 538.8L173 539.2L174.1 540.2L175.2 539.8L176.3 539.5L177.4 538.9L178.5 540.2L179.6 540L180.7 538.5L181.8 540.1L182.9 539.7L184 539.6L185.1 539.2L186.2 539.9L187.3 540L188.4 539L189.5 540.1L190.6 539.6L191.7 538.9L192.8 538.8L193.9 539.5L195 539.4L196.1 539.5L197.2 539.4L198.3 539.3L199.4 540.1L200.5 539.5L201.6 538.6L202.7 538.7L203.8 539.8L204.9 540L206 539.1L207.1 538.9L208.2 539L209.3 540.1L210.4 540.3L211.5 538.9L212.6 540.1L213.7 538.7L214.8 540.2L215.9 540L217 539.1L218.1 538.6L219.2 538.9L220.3 538.9L221.4 539L222.5 538.9L223.6 540.2L224.7 539.3L225.8 539.8L226.9 539.8L228 538.9L229.1 539.6L230.2 539.6L231.3 540.1L232.4 538.5L233.5 538.9L234.6 539L235.7 539.1L236.8 539.4L237.9 538.7L239 540.1L240.1 538.6L241.2 539.5L242.3 539.9L243.4 539.9L244.5 539.7L245.6 539L246.7 539.7L247.8 539.5L248.9 539.2L250 539.9L251.1 539.4L252.2 540L253.3 539.7L254.4 540L255.5 539.4L256.6 539.4L257.7 538.8L258.8 539.4L259.9 538.8L261 539L262.1 539.4L263.2 539.8L264.3 539.1L265.4 538.8L266.5 539.9L267.6 539.9L268.7 538.7L269.8 539.8L270.9 539.7L272 539L273.1 540.1L274.2 539.7L275.3 539.2L276.4 540.2L277.5 539.5L278.6 539.9L279.7 538.6L280.8 539.3L280.8 543.3L279.7 543.8L278.6 544.2L277.5 544L276.4 543.7L275.3 544.3L274.2 543.8L273.1 544.6L272 543.3L270.9 543.9L269.8 544.7L268.7 544.7L267.6 544.4L266.5 543.6L265.4 543.6L264.3 544.8L263.2 544.4L262.1 543.5L261 544.8L259.9 543.8L258.8 544.4L257.7 544.1L256.6 544.6L255.5 544.2L254.4 544.9L253.3 544.5L252.2 543.8L251.1 543.8L250 543.2L248.9 543.6L247.8 544.6L246.7 544.4L245.6 544.8L244.5 543.5L243.4 544.2L242.3 543.6L241.2 544.4L240.1 544.1L239 544.5L237.9 543.4L236.8 544.3L235.7 544.1L234.6 544.5L233.5 543.4L232.4 543.9L231.3 544L230.2 543.9L229.1 543.8L228 543.8L226.9 544.2L225.8 543.5L224.7 544.6L223.6 543.7L222.5 544.8L221.4 543.3L220.3 544L219.2 543.2L218.1 544.2L217 544.6L215.9 544.6L214.8 544.6L213.7 543.5L212.6 543.3L211.5 543.2L210.4 543.4L209.3 544.2L208.2 544.1L207.1 544.3L206 544.7L204.9 544.6L203.8 544L202.7 544.5L201.6 543.8L200.5 544.7L199.4 543.9L198.3 544.4L197.2 543.6L196.1 544.4L195 544.4L193.9 543.8L192.8 544.2L191.7 543.8L190.6 544.2L189.5 543.5L188.4 543.8L187.3 544.1L186.2 543.7L185.1 543.8L184 544.3L182.9 543.7L181.8 544L180.7 544.6L179.6 543.3L178.5 543.4L177.4 543.1L176.3 544L175.2 544.1L174.1 543.6L173 544.7L171.9 543.2L170.8 544.6L169.7 544.5L168.6 544.6L167.5 543.5L166.4 544.5L165.3 544.7L164.2 543.7L163.1 544.8L162 544.1L160.9 543.7L159.8 544.5L158.7 544.2L157.6 544.7L156.5 544.4L155.4 543.2L154.3 543.6L153.2 543.3L152.1 543.7L151 544.1L149.9 544.6L148.8 543.5L147.7 544.8L146.6 544.9L145.5 544.8L144.4 543.4L143.3 543.9L142.2 543.9L141.1 543.6L140 543.7L138.9 543.7L137.8 544.3L136.7 543.6L135.6 544.6L134.5 543.5L133.4 543.4L132.3 543.9L131.2 544.3L130.1 543.4L129 543.9L127.9 543.7L126.8 543.3L125.7 543.9L124.6 543.6L123.5 543.5L122.4 544.4L121.3 543.2L120.2 543.8L119.1 544.2L118 543.7L116.9 543.7L115.8 543.9L114.7 544.8L113.6 543.2L112.5 544.4L111.4 543.8L110.3 544L109.2 543.2L108.1 544.2L107 544.2L105.9 543.2L104.8 544.1L103.7 543.7L102.6 544.4L101.5 544L100.4 544.2L99.3 544.2L98.2 544.1L97.1 543.8L96 544.8L94.9 544.7L93.8 543.4L92.7 543.9L91.6 543.2L90.5 543.3L89.4 544.9L88.3 544.9L87.2 543.7L86.1 543.2L85 543.2L83.9 544.5L82.8 543.4L81.7 544.5L80.6 544.9L79.5 543.3L78.4 544.1L77.3 543.5L76.2 544.1L75.1 544.8L74 543.4L72.9 544.9L71.8 544.8L70.7 544.7L69.6 544.2L68.5 543.8L67.4 543.7L66.3 543.9L65.2 543.5L64.1 543.3L63 544.8L61.9 544.5L60.8 544.8L59.7 544.7L58.6 544L57.5 543.2L56.4 544.2L55.3 543.3L54.2 544.4L53.1 544.7L52 543.4L50.9 544L49.8 544L48.7 543.6L47.6 544.6L46.5 543.3L45.4 544.2L44.3 544.1Z" fill="#0d0d0d"/>
<path d="M74.7 528.2L75.7 529.1L76.7 531.7L77.7 531.2L78.7 532.2L79.7 535.1L80.7 528.4L81.7 530.5L82.7 532.1L83.7 530.3L84.7 532.6L85.7 527.7L86.7 529.4L87.7 528.4L88.7 528.6L89.7 532.2L90.7 531.9L91.7 531.6L92.7 534.1L93.7 529.1L93.7 555.3L92.7 549.1L91.7 550.5L90.7 554.6L89.7 549.8L88.7 549.5L87.7 555.5L86.7 551.5L85.7 555.2L84.7 551.9L83.7 550.1L82.7 552.5L81.7 552.1L80.7 549.2L79.7 554.3L78.7 550.4L77.7 548.6L76.7 550.1L75.7 549.9L74.7 551Z" fill="#3a322b"/><path d="M74.2 531.6V551.1M75.3 518.2V563.5M76.3 522.8V556.3M77.4 519V562M78.4 528.7V565M79.6 527V554.3M80.4 515.3V561.2M81.4 529.5V562.6M82.5 523.8V551.9M83.5 516.7V565M84.4 519.4V552.8M85.5 524.5V559.7M86.4 521V560.6M87.3 524.2V562.8M88.4 517.1V563.1M89.2 517.8V552.6M90.2 519.2V562.1M91.1 519.8V567.7M91.9 520.2V562.9M93 519.7V563.2M94.2 532.4V555.2M95 533.8V549.7" stroke="#3a322b" stroke-width="1.0" fill="none"/>
<path d="M150.7 529L151.7 528.1L152.7 532.3L153.7 534.1L154.7 532.2L155.7 530.2L156.7 532.4L157.7 533.7L158.7 528.5L159.7 529.2L160.7 529.5L161.7 531L162.7 528.7L163.7 534.6L164.7 531.9L165.7 533.6L166.7 528.2L167.7 535.2L168.7 528.1L169.7 530.1L170.7 531.7L171.7 528.8L172.7 530.1L172.7 553.5L171.7 548.8L170.7 551.8L169.7 553.7L168.7 554.8L167.7 552.8L166.7 548.1L165.7 555.3L164.7 549.7L163.7 548.8L162.7 553.9L161.7 551.1L160.7 549.8L159.7 550.4L158.7 550.7L157.7 553.5L156.7 550.1L155.7 551.2L154.7 549.8L153.7 549.5L152.7 552.8L151.7 551.8L150.7 549.6Z" fill="#3a322b"/><path d="M150.2 531.5V552.1M151.2 521.5V557.5M152.3 531.5V561.9M153.4 523.8V569.5M154.4 522.5V551M155.3 521.5V558.8M156.5 518.3V565.7M157.4 521.1V569.7M158.5 520.6V552.4M159.6 519.7V568M160.8 524.3V560.8M162 519.7V559.3M162.9 523.3V562.2M163.7 530.6V559.6M164.6 517.8V563.5M165.4 516.8V559.8M166.3 513V567.5M167.2 519.7V556.2M168.4 521.8V561.4M169.3 523.4V559.5M170.4 520V563.6M171.4 514.2V560.5M172.5 524.3V557.9M173.4 527V555.5" stroke="#3a322b" stroke-width="1.0" fill="none"/>
<path d="M228.5 531.7L229.5 530.6L230.5 528.5L231.5 534.1L232.5 531.9L233.5 528L234.5 531.8L235.5 533.6L236.5 528.3L237.5 531.9L238.5 530.7L239.5 534.9L240.5 533L241.5 528.4L242.5 528.4L243.5 534.9L244.5 530.3L245.5 535.4L246.5 530.4L247.5 531.4L248.5 531.2L249.5 530.3L250.5 533.7L251.5 531L251.5 554.7L250.5 550L249.5 555.3L248.5 549.1L247.5 549.3L246.5 551.3L245.5 554.3L244.5 551.7L243.5 549.9L242.5 554.2L241.5 552.5L240.5 553L239.5 553.2L238.5 550L237.5 550.7L236.5 549.3L235.5 552.6L234.5 550.7L233.5 553.6L232.5 551L231.5 549.7L230.5 553.8L229.5 553.4L228.5 553.1Z" fill="#3a322b"/><path d="M228 531V547.7M228.8 524.9V556.5M229.8 528.1V565.9M230.7 512.8V551.3M231.8 519.7V553.4M232.6 525.8V564.2M233.8 531.1V563.2M234.8 530.7V566.3M236 518.9V563.2M236.9 523.3V566.6M238 519.4V562.6M238.8 520.9V562.6M239.8 523.4V567.7M240.7 518.6V553.3M241.7 530.6V566.3M242.7 516.1V559.1M243.6 518V569.2M244.5 512.6V562.6M245.6 523.6V561.5M246.5 523.6V558.9M247.7 517.7V558.8M248.8 516V561.1M249.9 520.5V569.1M250.8 513.2V561.6M251.9 523.9V554.6" stroke="#3a322b" stroke-width="1.0" fill="none"/>
<line x1="44.3" y1="633" x2="281.4" y2="633" stroke="#0d0d0d" stroke-width="2.6"/>
<line x1="75.6" y1="633" x2="98.1" y2="633" stroke="#f4ede6" stroke-width="3"/>
<path d="M74.6 631.4L75.8 631.8L77 631.3L78.2 631.6L79.4 631.6L80.6 631.9L81.8 632.2L83 632L84.2 631.8L85.4 632.2L86.6 631.3L87.8 631.8L89 632.1L90.2 631.4L91.4 632.1L92.6 632L93.8 631.5L95 631.5L96.2 631.5L97.4 631.3L97.4 634.3L96.2 634.1L95 634.5L93.8 634.3L92.6 634.5L91.4 634.6L90.2 634.5L89 634.5L87.8 634.5L86.6 633.8L85.4 634.1L84.2 633.9L83 634.5L81.8 634.1L80.6 634.1L79.4 634.1L78.2 634.3L77 633.9L75.8 633.9L74.6 634Z" fill="#5e4f44"/>
<line x1="153" y1="633" x2="175.8" y2="633" stroke="#f4ede6" stroke-width="3"/>
<path d="M152 631.9L153.2 631.3L154.4 631.6L155.6 632L156.8 631.8L158 632L159.2 631.6L160.4 631.8L161.6 632.2L162.8 631.6L164 631.5L165.2 631.7L166.4 631.8L167.6 631.3L168.8 631.8L170 631.8L171.2 631.7L172.4 631.7L173.6 631.6L174.8 632L176 631.6L176 634.6L174.8 634.4L173.6 634.3L172.4 634.1L171.2 634.6L170 633.9L168.8 634.6L167.6 634.2L166.4 634.7L165.2 634.3L164 634.7L162.8 633.8L161.6 634.1L160.4 634.1L159.2 634.4L158 634.5L156.8 633.8L155.6 633.9L154.4 634.7L153.2 633.8L152 634.4Z" fill="#5e4f44"/>
<line x1="230.8" y1="633" x2="254" y2="633" stroke="#f4ede6" stroke-width="3"/>
<path d="M229.8 631.6L231 631.6L232.2 631.6L233.4 631.4L234.6 632.1L235.8 632.1L237 631.6L238.2 631.4L239.4 632L240.6 631.3L241.8 632.1L243 631.5L244.2 632.1L245.4 631.7L246.6 631.5L247.8 631.3L249 631.4L250.2 632.2L251.4 631.3L252.6 632.1L253.8 631.7L253.8 634L252.6 634.4L251.4 634.1L250.2 633.9L249 634L247.8 634.2L246.6 634.4L245.4 634.1L244.2 634.3L243 634.4L241.8 633.8L240.6 634.2L239.4 633.9L238.2 634L237 634.2L235.8 633.8L234.6 633.8L233.4 634.5L232.2 633.9L231 634.6L229.8 634Z" fill="#5e4f44"/>
<path d="M45.1 629.2L46.1 627.9L47.1 629L48.1 630.4L49.1 630L50.1 629.7L51.1 628L52.1 629.8L53.1 629.8L54.1 629.2L55.1 630.3L56.1 628.1L57.1 630.4L58.1 629.4L59.1 628.4L60.1 629.4L61.1 629.1L62.1 628.6L63.1 630.6L64.1 629.8L65.1 628.9L66.1 629.5L67.1 629.3L68.1 628.7L69.1 627.8L70.1 629.2L71.1 629.7L72.1 629.1L73.1 630L74.1 629.2L74.1 637.7L73.1 636.3L72.1 636.9L71.1 637.9L70.1 637.6L69.1 636.4L68.1 636.1L67.1 636.1L66.1 637L65.1 635.7L64.1 637.6L63.1 636.4L62.1 635.6L61.1 637.7L60.1 636.4L59.1 637.3L58.1 636.4L57.1 637.8L56.1 637.3L55.1 635.9L54.1 636.8L53.1 636L52.1 635.7L51.1 637.4L50.1 637.5L49.1 636.1L48.1 637.6L47.1 638L46.1 637.2L45.1 635.9Z" fill="#0d0d0d"/><path d="M44.6 628.2V637M45.7 626.3V641.4M46.8 629.3V644.5M48.3 625.9V638.1M49.5 626.1V641.5M50.5 628.6V636.7M51.8 627.3V638M52.9 623.9V643.4M53.9 628.2V638.9M55.2 625.9V637.7M56.4 628.2V643.9M57.9 628.5V639.2M59.1 626V639.3M60.6 629.5V641.7M62.1 628.8V642.6M63.1 629.1V639.1M64.2 627.5V637.1M65.2 629.3V635.9M66.2 628.2V640.7M67.3 627.3V639.6M68.4 627.1V640.9M69.6 629.5V638M71 622.2V638.8M72.4 628.8V638.7M73.8 626.8V638.2M75.1 630.1V639" stroke="#0d0d0d" stroke-width="1.15" fill="none"/>
<path d="M97.5 630.4L98.5 629.5L99.5 628.9L100.5 628L101.5 628.2L102.5 628.7L103.5 628.4L104.5 628.4L105.5 629.4L106.5 628.5L107.5 630L108.5 629.4L109.5 628L110.5 629.1L111.5 629.7L112.5 630.2L113.5 629.6L114.5 628.1L115.5 630.3L116.5 630.6L117.5 629L118.5 630L119.5 628.6L120.5 628.6L121.5 629.3L122.5 628.8L123.5 630.1L124.5 630.1L125.5 628.4L126.5 629.6L127.5 628.4L128.5 628.5L129.5 628.4L130.5 629L131.5 629.5L132.5 629.2L133.5 629.4L134.5 628.1L135.5 630.2L136.5 628.5L137.5 628.2L138.5 628.7L139.5 627.9L140.5 629.8L141.5 629.9L142.5 629L143.5 630.1L144.5 630.5L145.5 629.9L146.5 628.6L147.5 628.5L147.5 635.4L146.5 638.1L145.5 637.5L144.5 638.1L143.5 637.8L142.5 636.1L141.5 636.2L140.5 635.9L139.5 636.4L138.5 637L137.5 635.5L136.5 635.6L135.5 636.5L134.5 637.4L133.5 636.8L132.5 635.3L131.5 636.4L130.5 636.1L129.5 636.3L128.5 637L127.5 637.8L126.5 637.3L125.5 637.8L124.5 635.9L123.5 635.9L122.5 637.6L121.5 637L120.5 636.4L119.5 635.4L118.5 637.5L117.5 636.9L116.5 636.1L115.5 637.8L114.5 635.4L113.5 637.4L112.5 636.3L111.5 636.5L110.5 635.9L109.5 637.2L108.5 635.7L107.5 636.3L106.5 636.6L105.5 637.8L104.5 635.4L103.5 637.1L102.5 638.1L101.5 636.5L100.5 636.2L99.5 636.8L98.5 638L97.5 637Z" fill="#0d0d0d"/><path d="M97 631V636.7M98.1 627.2V638.9M99.2 630.3V635.7M100.6 630.3V637.9M102 627.7V640.7M103.2 629V643.1M104.6 628.9V643M105.8 629.3V637.5M106.9 624.1V637.7M108.3 624.2V637.1M109.6 623.8V637.6M110.8 627.2V639.5M112 629.7V636.8M113.2 626.2V640.2M114.5 625.8V640.7M115.7 623V638.7M116.7 629.4V642.1M118.1 624.9V642.8M119.6 622.8V640.5M120.8 628V638.3M122.2 624.2V636.7M123.3 627.7V636.4M124.5 623.2V643.4M125.6 622.8V636.9M126.7 623.7V642M127.9 625.6V642.4M129 624.2V636.2M130.1 625.5V640.9M131.2 626.9V638.6M132.2 629.2V634.8M133.7 625V637.1M134.9 628.2V637.4M136.3 625.8V636.5M137.6 624V634.8M139 628.6V641.4M140.2 629.5V639M141.3 626.2V637M142.6 626.1V641.5M144 629.1V640.3M145.5 627.8V635.7M146.5 630.4V639.5M147.8 631.4V636.8" stroke="#0d0d0d" stroke-width="1.15" fill="none"/>
<path d="M184.2 629.2L185.2 629.8L186.2 628.6L187.2 629.3L188.2 628.6L189.2 630.4L190.2 627.9L191.2 629.6L192.2 630.3L193.2 628.4L194.2 629.6L195.2 629.2L196.2 630.4L197.2 629.2L198.2 628L199.2 629.1L200.2 629.5L201.2 628.7L202.2 629.4L203.2 628.9L204.2 628.2L205.2 629.8L206.2 630.1L207.2 628.9L208.2 629.3L209.2 628.7L210.2 630.5L211.2 628.4L212.2 628.4L213.2 628.8L214.2 628.5L215.2 628.6L216.2 629.1L217.2 628L218.2 628.4L219.2 630.2L220.2 629.6L221.2 628.5L222.2 627.8L223.2 629.5L224.2 629.2L225.2 628.2L226.2 630.2L226.2 635.5L225.2 637.2L224.2 637.3L223.2 637.8L222.2 635.5L221.2 636.5L220.2 636.3L219.2 635.9L218.2 636L217.2 637.7L216.2 636L215.2 637.1L214.2 636.1L213.2 637.8L212.2 638.1L211.2 638.2L210.2 637.1L209.2 637.7L208.2 636.3L207.2 636.7L206.2 637.2L205.2 636.7L204.2 636.5L203.2 635.4L202.2 638.1L201.2 636.4L200.2 638.1L199.2 637.8L198.2 637.1L197.2 636.1L196.2 637L195.2 636.6L194.2 638.1L193.2 636.7L192.2 636.3L191.2 637.1L190.2 636.9L189.2 636.6L188.2 637L187.2 637.7L186.2 637.5L185.2 638L184.2 637Z" fill="#0d0d0d"/><path d="M183.7 631V634.5M184.8 630.8V637.4M185.9 625.5V637M187.3 628.6V639.8M188.5 628.6V636.7M190 625.8V641.3M191.3 628.9V641.2M192.8 626.6V636.4M193.9 631.4V638.7M195.1 627.4V638M196.3 628.2V639M197.6 627.9V636.6M199.1 628.3V638.1M200.5 629.9V637.9M201.6 627.2V637.6M202.7 630.2V638.7M203.8 626.3V635.9M205.3 627.7V640.6M206.6 624.6V640M207.9 628.3V640.2M209.4 630.3V638.5M210.5 626.3V635.8M211.9 628.4V636.3M213.4 631V637.2M214.5 628.4V639.9M215.5 630.4V640.6M216.7 628.2V640M217.9 630.8V637.1M218.9 628.7V639.4M220.2 631.5V638.4M221.2 626.7V641.4M222.5 629.6V637.6M223.5 628.2V639.4M225 627.9V637.1M226.1 630.3V635.3" stroke="#0d0d0d" stroke-width="1.15" fill="none"/>
<path d="M252.2 630.5L253.2 629.5L254.2 628.1L255.2 629.1L256.2 628.2L257.2 629.7L258.2 630L259.2 629.4L260.2 629L261.2 629.8L262.2 628.1L263.2 630.3L264.2 630.6L265.2 629L266.2 628.3L267.2 629.7L268.2 630.1L269.2 629.2L270.2 629.8L271.2 628.5L272.2 628.7L273.2 628.8L274.2 629.3L275.2 629.6L276.2 628.5L277.2 628.3L278.2 628.8L279.2 629.7L280.2 630.5L280.2 636.6L279.2 636.5L278.2 635.8L277.2 638L276.2 635.9L275.2 635.4L274.2 637.3L273.2 637.9L272.2 637.2L271.2 636.8L270.2 636.5L269.2 637.7L268.2 637.1L267.2 637.6L266.2 637.5L265.2 636.1L264.2 637.9L263.2 637.6L262.2 635.6L261.2 636.6L260.2 635.5L259.2 635.6L258.2 635.3L257.2 636.3L256.2 635.8L255.2 636.3L254.2 635.4L253.2 635.6L252.2 635.6Z" fill="#0d0d0d"/><path d="M251.7 629.2V635.1M253 630.5V638.1M254.2 630.7V636.1M255.6 627.6V638.9M256.6 625.4V639.4M258.1 628V640.5M259.4 628.3V636.2M260.7 627.5V639.7M261.9 628.7V635.2M262.9 628.6V639.3M264.1 628.5V637.6M265.2 629.6V640.6M266.3 626.9V641.5M267.4 624.2V634.7M268.8 626V641.8M270.1 624.1V640.4M271.3 629.1V636.2M272.7 628.2V637.1M273.8 626.9V640.8M275.3 627.5V637.9M276.7 626V638.3M278 628.8V637.6M279.3 629.6V640.9M280.5 628.8V638.3" stroke="#0d0d0d" stroke-width="1.15" fill="none"/>
<path d="M285 539.5L286.3 539.4L287.6 539.4L288.9 539.8L290.2 539.3L291.5 539.3L292.8 539.6L294.1 539.5L295.4 539.8L296.7 539.7L298 539.4L299.3 539.4L300.6 539.5L301.9 539.8L303.2 539.7L304.5 539.3L305.8 539.7L307.1 539.5L308.4 539.7L309.7 539.5L311 539.4L312.3 539.6L313.6 539.7L314.9 539.6L316.2 539.8L317.5 539.6L318.8 539.4L320.1 539.6L321.4 539.4L322.7 539.3L324 539.4L325.3 539.8L326.6 539.6L327.9 539.8L329.2 539.7L330.5 539.7L331.8 539.3L333.1 539.6L334.4 539.5L335.7 539.7L337 539.4L338.3 539.8L339.6 539.7L340.9 539.5L342.2 539.6L343.5 539.5L344.8 539.6L346.1 539.8L347.4 539.5L348.7 539.7L350 539.3L351.3 539.6L352.6 539.5L353.9 539.6L355.2 539.8L356.5 539.8L357.8 539.4L359.1 539.4L360.4 539.5L361.7 539.7L363 539.7L364.3 539.6L365.6 539.3L366.9 539.3L368.2 539.6L369.5 539.6L370.8 539.6L372.1 539.6L373.4 539.3L374.7 539.5L376 539.8L377.3 539.4L378.6 539.6L379.9 539.4L381.2 539.5L382.5 539.6L383.8 539.7L385.1 539.4L386.4 539.6L387.7 539.5L389 539.8L390.3 539.7L391.6 539.6L392.9 539.5L394.2 539.6L395.5 539.4L396.8 539.6L398.1 539.4L399.4 539.3L400.7 539.5L402 539.7L403.3 539.3L404.6 539.5L405.9 539.4L407.2 539.4L408.5 539.5L409.8 539.5L411.1 539.5L412.4 539.8L413.7 539.6L415 539.7L416.3 539.5L417.6 539.6L418.9 539.8L420.2 539.6L421.5 539.7L422.8 539.6L424.1 539.5L425.4 539.7L426.7 539.8L428 539.7L429.3 539.7L430.6 539.6L431.9 539.5L433.2 539.5L434.5 539.5L435.8 539.4L437.1 539.4L438.4 539.6L439.7 539.5L441 539.3L442.3 539.5L443.6 539.4L444.9 539.7L446.2 539.5L447.5 539.5L448.8 539.6L450.1 539.7L451.4 539.3L452.7 539.3L454 539.5L455.3 539.3L456.6 539.6L457.9 539.3L459.2 539.7L460.5 539.7L461.8 539.6L463.1 539.4L464.4 539.8L465.7 539.7L467 539.4L468.3 539.7L469.6 539.3L470.9 539.5L472.2 539.5L473.5 539.4L474.8 539.4L476.1 539.5L477.4 539.6L478.7 539.6L480 539.4L481.3 539.8L482.6 539.6L483.9 539.4L485.2 539.8L486.5 539.6L487.8 539.4L489.1 539.6L490.4 539.6L491.7 539.4L493 539.6L494.3 539.8L495.6 539.5L496.9 539.7L498.2 539.3L499.5 539.6L500.8 539.5L502.1 539.7L503.4 539.4L504.7 539.7L506 539.4L507.3 539.8L508.6 539.3L509.9 539.4L511.2 539.4L512.5 539.5L513.8 539.4L515.1 539.7L516.4 539.7L517.7 539.6L519 539.5L520.3 539.7L521.6 539.8L522.9 539.5L524.2 539.4L524.2 540.7L522.9 541L521.6 540.6L520.3 540.8L519 540.6L517.7 540.7L516.4 540.9L515.1 541.1L513.8 540.7L512.5 541.1L511.2 540.7L509.9 540.6L508.6 541.1L507.3 541L506 540.9L504.7 541L503.4 540.6L502.1 540.9L500.8 540.8L499.5 540.9L498.2 540.7L496.9 541L495.6 540.8L494.3 541L493 541L491.7 540.7L490.4 540.8L489.1 541.1L487.8 540.9L486.5 540.9L485.2 541L483.9 540.9L482.6 541.1L481.3 540.7L480 540.9L478.7 540.8L477.4 540.9L476.1 540.8L474.8 540.8L473.5 540.7L472.2 540.9L470.9 540.8L469.6 540.8L468.3 540.7L467 540.7L465.7 541.1L464.4 540.9L463.1 541L461.8 540.8L460.5 540.9L459.2 540.8L457.9 540.8L456.6 540.8L455.3 540.9L454 540.7L452.7 541.1L451.4 540.8L450.1 540.7L448.8 540.8L447.5 541L446.2 540.7L444.9 540.9L443.6 540.6L442.3 540.8L441 541.1L439.7 540.9L438.4 540.7L437.1 540.9L435.8 540.8L434.5 541.1L433.2 540.8L431.9 540.7L430.6 540.6L429.3 541L428 540.8L426.7 540.8L425.4 541.1L424.1 540.9L422.8 540.8L421.5 540.6L420.2 540.7L418.9 540.7L417.6 540.7L416.3 540.6L415 540.9L413.7 540.9L412.4 540.7L411.1 541L409.8 541L408.5 540.8L407.2 540.9L405.9 540.7L404.6 541L403.3 540.8L402 541L400.7 540.9L399.4 541.1L398.1 540.9L396.8 541L395.5 541L394.2 540.9L392.9 541L391.6 541L390.3 540.9L389 540.9L387.7 540.9L386.4 541.1L385.1 540.9L383.8 540.8L382.5 541L381.2 541L379.9 540.9L378.6 541L377.3 541L376 540.7L374.7 540.8L373.4 540.9L372.1 541.1L370.8 540.7L369.5 540.7L368.2 541L366.9 540.8L365.6 541L364.3 540.8L363 541L361.7 540.8L360.4 541L359.1 541.1L357.8 540.7L356.5 540.8L355.2 541.1L353.9 540.8L352.6 541L351.3 540.7L350 540.9L348.7 540.6L347.4 541.1L346.1 540.7L344.8 540.7L343.5 540.8L342.2 541.1L340.9 541.1L339.6 540.8L338.3 541.1L337 541L335.7 541L334.4 541L333.1 540.8L331.8 541.1L330.5 541L329.2 541.1L327.9 540.6L326.6 540.9L325.3 541L324 541L322.7 540.6L321.4 540.6L320.1 540.8L318.8 540.8L317.5 540.8L316.2 540.9L314.9 540.9L313.6 540.6L312.3 540.7L311 540.8L309.7 541.1L308.4 541.1L307.1 540.9L305.8 541.1L304.5 541L303.2 540.7L301.9 541L300.6 540.7L299.3 540.7L298 540.7L296.7 541.1L295.4 540.7L294.1 540.9L292.8 540.7L291.5 540.7L290.2 540.9L288.9 540.8L287.6 541.1L286.3 541.1L285 541Z" fill="#1a1a1a"/>
<path d="M285 630.7L286.3 630.9L287.6 631.3L288.9 630.9L290.2 631L291.5 631.1L292.8 630.7L294.1 630.9L295.4 631.2L296.7 630.7L298 630.7L299.3 630.6L300.6 631.2L301.9 630.7L303.2 631.2L304.5 630.8L305.8 630.5L307.1 631.2L308.4 631L309.7 630.6L311 630.8L312.3 630.7L313.6 631.3L314.9 630.8L316.2 630.8L317.5 630.6L318.8 631.2L320.1 631.1L321.4 630.9L322.7 631.2L324 630.7L325.3 630.7L326.6 631.1L327.9 630.8L329.2 631L330.5 631.2L331.8 631.3L333.1 630.7L334.4 630.5L335.7 630.5L337 630.8L338.3 631L339.6 630.7L340.9 630.9L342.2 631L343.5 630.7L344.8 630.9L346.1 631.2L347.4 631.2L348.7 631L350 631L351.3 631.1L352.6 630.6L353.9 631.1L355.2 630.9L356.5 631L357.8 630.7L359.1 630.8L360.4 630.6L361.7 630.8L363 631L364.3 630.7L365.6 631.1L366.9 631L368.2 631.3L369.5 631.2L370.8 631L372.1 630.6L373.4 631.2L374.7 630.8L376 630.7L377.3 630.9L378.6 631.2L379.9 631.2L381.2 630.8L382.5 630.8L383.8 631.2L385.1 630.9L386.4 630.8L387.7 631.2L389 631.3L390.3 630.6L391.6 630.6L392.9 630.8L394.2 631.2L395.5 630.6L396.8 630.7L398.1 631.1L399.4 631.3L400.7 630.5L402 630.5L403.3 630.6L404.6 630.5L405.9 630.6L407.2 631.3L408.5 630.8L409.8 631.3L411.1 631L412.4 630.5L413.7 630.5L415 631L416.3 630.7L417.6 630.9L418.9 630.9L420.2 631.3L421.5 631.3L422.8 631.2L424.1 631.2L425.4 631L426.7 631.1L428 630.6L429.3 631.2L430.6 631.1L431.9 630.7L433.2 631.2L434.5 631L435.8 631L437.1 630.9L438.4 630.7L439.7 630.7L441 630.8L442.3 631.2L443.6 631L444.9 631.3L446.2 631.2L447.5 631.2L448.8 631.3L450.1 630.7L451.4 630.9L452.7 631.1L454 630.7L455.3 631.2L456.6 631.2L457.9 630.5L459.2 630.6L460.5 630.8L461.8 630.8L463.1 631L464.4 630.6L465.7 630.7L467 630.8L468.3 630.7L469.6 630.5L470.9 630.8L472.2 631.2L473.5 631.3L474.8 631.2L476.1 631.3L477.4 630.5L478.7 630.6L480 631.2L481.3 631.3L482.6 630.6L483.9 630.8L485.2 631.2L486.5 631.2L487.8 631L489.1 630.9L490.4 630.9L491.7 631.2L493 631.2L494.3 630.7L495.6 630.5L496.9 630.9L498.2 630.8L499.5 630.6L500.8 630.8L502.1 630.9L503.4 630.6L504.7 630.6L506 630.6L507.3 631.1L508.6 631L509.9 631L511.2 631.1L512.5 630.8L513.8 630.6L515.1 631L516.4 630.6L517.7 630.9L519 630.9L520.3 630.9L521.6 630.5L522.9 630.8L524.2 630.8L525.5 631.3L525.5 632.8L524.2 633.3L522.9 633.4L521.6 633.4L520.3 633L519 633.3L517.7 633.5L516.4 633.4L515.1 632.8L513.8 632.7L512.5 633.3L511.2 632.7L509.9 632.7L508.6 633.4L507.3 632.8L506 633L504.7 633.4L503.4 632.8L502.1 633.4L500.8 633.3L499.5 633.1L498.2 633.1L496.9 632.8L495.6 633.3L494.3 633.2L493 633L491.7 633.4L490.4 632.9L489.1 633.2L487.8 633.2L486.5 633.5L485.2 633L483.9 632.9L482.6 632.7L481.3 632.7L480 632.7L478.7 632.7L477.4 633L476.1 633.4L474.8 633.5L473.5 633L472.2 633.2L470.9 633.3L469.6 633.3L468.3 633.3L467 632.9L465.7 632.9L464.4 633.3L463.1 632.8L461.8 632.9L460.5 633.3L459.2 633.3L457.9 632.7L456.6 632.8L455.3 633.2L454 633.4L452.7 633.1L451.4 633.4L450.1 632.9L448.8 633.1L447.5 633L446.2 633.3L444.9 633.3L443.6 632.7L442.3 633.2L441 633.5L439.7 633L438.4 633.2L437.1 633.2L435.8 633.5L434.5 633L433.2 632.9L431.9 633.1L430.6 633.1L429.3 632.9L428 633L426.7 633.1L425.4 632.9L424.1 633.1L422.8 632.9L421.5 633.1L420.2 633.1L418.9 632.7L417.6 633.1L416.3 632.8L415 632.7L413.7 633.3L412.4 633.3L411.1 632.7L409.8 632.8L408.5 633.1L407.2 633.3L405.9 632.7L404.6 633L403.3 632.9L402 632.7L400.7 632.9L399.4 633.3L398.1 633.3L396.8 633L395.5 633L394.2 633.5L392.9 633.3L391.6 633L390.3 633.4L389 633.2L387.7 633.4L386.4 633.3L385.1 633.4L383.8 633.2L382.5 632.8L381.2 632.8L379.9 633.2L378.6 633L377.3 633.1L376 633.3L374.7 633L373.4 633.5L372.1 632.7L370.8 633.4L369.5 633.3L368.2 633.3L366.9 632.7L365.6 632.7L364.3 633.4L363 633.1L361.7 632.9L360.4 633L359.1 633.5L357.8 632.9L356.5 632.9L355.2 632.8L353.9 633.1L352.6 633.2L351.3 633L350 633.4L348.7 632.9L347.4 633.2L346.1 632.7L344.8 633.3L343.5 632.9L342.2 632.7L340.9 633.3L339.6 633.1L338.3 633.4L337 633.4L335.7 633.4L334.4 632.9L333.1 633L331.8 633L330.5 633.5L329.2 633L327.9 632.9L326.6 633.4L325.3 632.7L324 632.7L322.7 633.4L321.4 632.8L320.1 632.8L318.8 633.2L317.5 633.1L316.2 632.7L314.9 632.9L313.6 633L312.3 633.5L311 633.3L309.7 633.1L308.4 633.4L307.1 633.2L305.8 633.2L304.5 632.9L303.2 632.8L301.9 633L300.6 633.3L299.3 633L298 633.2L296.7 632.9L295.4 633.1L294.1 633.2L292.8 633L291.5 633.3L290.2 633.3L288.9 633.3L287.6 633.2L286.3 632.9L285 633.4Z" fill="#0d0d0d"/>
<path d="M528.6 539.5L529.7 539.1L530.8 539.3L531.9 539.7L533 539.8L534.1 539.7L535.2 539.4L536.3 539.7L537.4 539.2L538.5 539.2L539.6 538.8L540.7 538.9L541.8 539.6L542.9 539.5L544 539.6L545.1 539.2L546.2 539.2L547.3 539.7L548.4 539.1L549.5 539.5L550.6 539.3L551.7 539L552.8 539.5L553.9 539.3L555 539.1L556.1 538.8L557.2 539.4L558.3 539.6L559.4 539.8L560.5 539L561.6 538.9L562.7 539.1L563.8 539.2L564.9 539L566 539.3L567.1 539.7L568.2 539.1L569.3 539L570.4 539.4L571.5 539.8L572.6 539.6L573.7 539.7L574.8 539.7L575.9 539.4L577 539.7L578.1 539.2L579.2 539L580.3 539.5L581.4 539.4L582.5 538.8L583.6 539.6L584.7 539.6L585.8 539.2L586.9 539.8L588 539.4L589.1 538.8L590.2 539.3L591.3 539.1L592.4 538.9L593.5 538.9L594.6 539.4L595.7 539.7L596.8 539.7L597.9 539.6L599 539.5L600.1 539.8L601.2 539.7L602.3 539.8L603.4 539.2L604.5 539.5L605.6 539.4L606.7 538.9L607.8 539.3L608.9 539.7L610 539.5L611.1 539L612.2 539.8L613.3 539.3L614.4 539.3L615.5 539.3L616.6 538.9L617.7 539.5L618.8 539.6L619.9 539.3L621 539.5L622.1 539L623.2 538.9L624.3 539L625.4 539.6L626.5 539.4L627.6 539.8L628.7 539.5L629.8 538.8L630.9 538.9L632 538.8L633.1 539.6L634.2 539.6L635.3 539.2L636.4 539L637.5 539.1L638.6 539.7L639.7 538.9L640.8 539L641.9 539.6L643 539.5L644.1 538.8L645.2 539.4L646.3 539.1L647.4 539.7L648.5 538.9L649.6 539.6L650.7 538.8L651.8 539.4L652.9 539.7L654 538.8L655.1 539.3L656.2 539.4L657.3 539L658.4 539.5L659.5 539.6L660.6 539.5L661.7 539.7L662.8 539.4L663.9 539.2L665 539.4L666.1 539.3L667.2 539.3L668.3 539.4L669.4 539.8L670.5 539.6L671.6 539.1L672.7 539.5L673.8 539.2L674.9 539.7L676 539.5L677.1 539L678.2 539.2L679.3 538.9L680.4 539.2L681.5 539.3L682.6 539.3L683.7 539.3L684.8 539.1L685.9 538.9L687 539.2L688.1 539L689.2 539.7L690.3 539.7L691.4 539.7L692.5 539L693.6 539.6L694.7 539.1L695.8 538.9L696.9 539.6L698 539.4L699.1 538.8L700.2 539.6L701.3 539.3L702.4 539.6L703.5 539.1L704.6 539.2L705.7 539.8L706.8 539.2L707.9 539.7L709 539L710.1 539.7L711.2 539.8L712.3 539.5L713.4 539.4L714.5 539L715.6 539.6L716.7 539.2L717.8 539.7L718.9 539.1L720 539.7L721.1 539.2L722.2 539.7L723.3 539.7L724.4 539.3L725.5 539.2L726.6 539.5L727.7 539.3L728.8 539.7L729.9 539.7L731 539.5L732.1 539L733.2 539.3L734.3 539.4L735.4 539.5L736.5 539.1L737.6 539.6L738.7 538.9L739.8 539L740.9 539.3L742 539.4L743.1 539.1L744.2 539.5L745.3 539.1L746.4 539.4L747.5 539.7L748.6 539.7L749.7 539.5L750.8 539.7L751.9 538.9L753 539.5L754.1 539.5L755.2 539.6L756.3 539.5L757.4 538.8L758.5 539.5L759.6 539.5L760.7 539.8L761.8 539.3L762.9 539.6L764 539.8L765.1 539.7L766.2 539.7L767.3 539.5L767.3 541.6L766.2 541.4L765.1 541.8L764 541.7L762.9 541.9L761.8 541.9L760.7 541.8L759.6 541.8L758.5 542.4L757.4 542L756.3 542.4L755.2 541.9L754.1 541.9L753 541.6L751.9 542.1L750.8 542.2L749.7 541.6L748.6 542.1L747.5 541.5L746.4 541.8L745.3 542L744.2 542.2L743.1 542.4L742 541.9L740.9 542.2L739.8 541.8L738.7 541.5L737.6 541.9L736.5 542L735.4 541.4L734.3 541.4L733.2 541.6L732.1 541.7L731 541.7L729.9 541.6L728.8 541.6L727.7 541.6L726.6 541.5L725.5 542.3L724.4 541.7L723.3 542.3L722.2 542.3L721.1 542.2L720 542.3L718.9 541.8L717.8 541.5L716.7 542.1L715.6 542.3L714.5 541.7L713.4 542.3L712.3 541.5L711.2 542.2L710.1 541.7L709 542.4L707.9 542.4L706.8 541.9L705.7 541.7L704.6 541.8L703.5 541.4L702.4 541.7L701.3 541.7L700.2 541.8L699.1 542.2L698 541.9L696.9 542.4L695.8 542.4L694.7 541.6L693.6 542.1L692.5 542.3L691.4 542.1L690.3 541.6L689.2 541.8L688.1 541.5L687 542.3L685.9 541.7L684.8 542.3L683.7 542.3L682.6 541.9L681.5 542.1L680.4 541.9L679.3 541.8L678.2 542.2L677.1 541.9L676 541.7L674.9 542L673.8 542.2L672.7 541.9L671.6 542L670.5 541.9L669.4 542.2L668.3 541.6L667.2 541.4L666.1 541.9L665 542.3L663.9 542.3L662.8 541.9L661.7 542.3L660.6 541.8L659.5 542L658.4 541.7L657.3 541.6L656.2 542.3L655.1 542.3L654 542.1L652.9 541.4L651.8 542L650.7 542.1L649.6 542.2L648.5 542.2L647.4 541.6L646.3 541.6L645.2 542.3L644.1 541.8L643 542.2L641.9 542.2L640.8 541.9L639.7 542.2L638.6 542.1L637.5 542.2L636.4 541.9L635.3 542.3L634.2 541.6L633.1 541.6L632 541.8L630.9 542.4L629.8 541.9L628.7 542.1L627.6 541.7L626.5 541.4L625.4 541.9L624.3 542.1L623.2 542.2L622.1 542.4L621 541.6L619.9 542.2L618.8 542.2L617.7 541.8L616.6 542.1L615.5 542.4L614.4 541.4L613.3 541.6L612.2 542.4L611.1 541.6L610 541.7L608.9 541.5L607.8 541.9L606.7 542.4L605.6 541.5L604.5 541.8L603.4 541.6L602.3 542.3L601.2 541.8L600.1 541.6L599 541.5L597.9 541.6L596.8 541.5L595.7 542L594.6 541.8L593.5 542.2L592.4 542.2L591.3 541.5L590.2 542L589.1 542.1L588 542L586.9 541.8L585.8 541.7L584.7 541.9L583.6 541.6L582.5 541.6L581.4 542.3L580.3 541.8L579.2 542.3L578.1 542.3L577 541.9L575.9 542.3L574.8 541.7L573.7 542.2L572.6 541.5L571.5 541.9L570.4 542.1L569.3 541.7L568.2 542.4L567.1 542.1L566 542.1L564.9 542.3L563.8 541.9L562.7 542L561.6 541.7L560.5 542L559.4 542.1L558.3 541.9L557.2 542.2L556.1 541.5L555 541.7L553.9 542.3L552.8 542L551.7 542.1L550.6 541.7L549.5 542L548.4 541.8L547.3 541.6L546.2 541.5L545.1 541.8L544 542L542.9 542.2L541.8 541.5L540.7 541.7L539.6 541.5L538.5 541.8L537.4 542.3L536.3 541.6L535.2 542.2L534.1 541.5L533 541.8L531.9 541.9L530.8 541.8L529.7 541.5L528.6 541.6Z" fill="#0d0d0d"/>
<path d="M566.1 535.1L567.1 534.2L568.1 534.6L569.1 536.2L570.1 533.2L571.1 535L572.1 536.8L573.1 534.5L574.1 535.7L575.1 533.3L576.1 537.1L577.1 533.7L578.1 534.2L579.1 535.6L580.1 535L581.1 535L582.1 533.4L583.1 536.7L584.1 536.7L585.1 536.6L586.1 535.4L587.1 535.4L587.1 547.6L586.1 544.4L585.1 544.3L584.1 544.6L583.1 547.5L582.1 547.8L581.1 547.5L580.1 546.2L579.1 546.7L578.1 548L577.1 545.4L576.1 547.3L575.1 545.5L574.1 545.7L573.1 544.8L572.1 546.8L571.1 546.7L570.1 546.7L569.1 545.4L568.1 544.1L567.1 547.3L566.1 545.1Z" fill="#3a322b"/><path d="M565.6 538.6V543.8M566.5 534.9V546.7M567.5 530.6V546.1M568.3 531.2V549M569.4 536.1V546.9M570.5 531.5V548.9M571.6 534.2V548.6M572.8 533.6V546.9M573.9 533V549.6M574.8 532V548.7M575.8 534.3V550.3M576.8 530.9V547.6M577.8 531.9V549.9M578.7 533.7V548.1M579.8 532.6V548.1M580.9 532V549.4M582 530.8V548.7M582.8 533.3V546.7M583.8 535.6V549.1M584.6 531.3V548.6M585.7 534V545.8M586.9 532.2V546.7M587.7 536.3V546.1" stroke="#3a322b" stroke-width="1.0" fill="none"/>
<path d="M650.3 535.9L651.3 536.9L652.3 535.6L653.3 535.8L654.3 536.8L655.3 534.3L656.3 534.3L657.3 535.2L658.3 536.3L659.3 536.5L660.3 534.8L661.3 534.6L662.3 534.2L663.3 533.6L664.3 535.4L665.3 536.6L666.3 536.8L667.3 535.7L668.3 533.2L669.3 536.4L670.3 533.2L670.3 546L669.3 544.6L668.3 546.5L667.3 547.2L666.3 547.2L665.3 544.2L664.3 544.3L663.3 546L662.3 544L661.3 547.3L660.3 547L659.3 545.8L658.3 544.2L657.3 544.8L656.3 545.8L655.3 546.3L654.3 544.7L653.3 546.4L652.3 547.7L651.3 545.2L650.3 547.2Z" fill="#3a322b"/><path d="M649.8 537.9V543.5M650.7 535.4V543.7M651.8 532V547.1M652.7 535.1V547M653.7 533.8V547.9M654.6 533.7V548.9M655.7 533.2V547.4M656.5 531.7V550.1M657.6 531.7V547.4M658.4 533.3V547.9M659.6 530.8V550.5M660.5 533.9V549.1M661.3 533.8V550.3M662.2 533V550.2M663.1 532.8V549.8M664.1 534.1V544.1M665 533.3V549.5M666 531.4V547.7M667 537.2V547M668.1 530.7V549.7M669.3 533.2V546.6M670.2 534.9V543.9M671.2 537.2V543.9" stroke="#3a322b" stroke-width="1.0" fill="none"/>
<path d="M724.9 535.5L725.9 533.5L726.9 536L727.9 533.3L728.9 537.1L729.9 536.2L730.9 536.5L731.9 535.6L732.9 534.1L733.9 533.8L734.9 534.7L735.9 534L736.9 533.9L737.9 533.3L738.9 536.4L739.9 535L740.9 533.9L741.9 534.5L742.9 536.6L743.9 536L744.9 536.7L745.9 535.2L746.9 534L747.9 533.6L747.9 546.4L746.9 545.9L745.9 547.5L744.9 544.2L743.9 545.5L742.9 544.3L741.9 547.6L740.9 546.8L739.9 546.5L738.9 547.3L737.9 547.6L736.9 545.6L735.9 546.5L734.9 546.2L733.9 547.6L732.9 547.5L731.9 546.8L730.9 546.4L729.9 547.3L728.9 548L727.9 547.4L726.9 547.5L725.9 547.7L724.9 545.7Z" fill="#3a322b"/><path d="M724.4 537.8V543.7M725.4 533.3V545.9M726.4 530.8V545.8M727.5 534.1V546.6M728.6 535.2V544.3M729.8 537.1V544.3M730.7 533.2V547.3M731.5 531.3V549.6M732.6 532.3V547.5M733.6 535.1V548.3M734.7 536.3V545.4M735.8 534.4V547.8M736.6 534.6V550.4M737.6 530.8V550.1M738.6 533.7V548.1M739.7 532.6V549M740.6 536.8V546.6M741.6 530.7V549.7M742.8 532.8V546.9M743.7 534.3V549.5M744.9 532.3V548.5M746 534.5V546M747.1 532.4V548.7M748 536.2V546.6" stroke="#3a322b" stroke-width="1.0" fill="none"/>
<line x1="530.4" y1="631.3" x2="769.4" y2="631.3" stroke="#4a4038" stroke-width="1.6"/>
<path d="M530.4 629.4L531.4 629.2L532.4 629.5L533.4 630L534.4 629.2L535.4 629.9L536.4 628.7L537.4 629.9L538.4 629.7L539.4 629.3L540.4 628.8L541.4 629.1L542.4 629L543.4 629.5L544.4 629.7L545.4 629.1L546.4 628.8L547.4 629.1L548.4 629.7L549.4 629.3L550.4 629.2L551.4 629L552.4 629.2L553.4 629.4L554.4 629L555.4 630L556.4 629.4L557.4 629.6L558.4 630.1L559.4 629.3L560.4 628.7L560.4 633.7L559.4 633.1L558.4 632.5L557.4 633.2L556.4 632.6L555.4 633.3L554.4 633.6L553.4 633.7L552.4 633.9L551.4 633.7L550.4 633.5L549.4 633.1L548.4 632.8L547.4 633.1L546.4 632.9L545.4 632.6L544.4 633.8L543.4 632.8L542.4 633.4L541.4 633.6L540.4 633.8L539.4 633.4L538.4 633.3L537.4 633.9L536.4 632.9L535.4 633.7L534.4 632.6L533.4 632.9L532.4 633.9L531.4 632.8L530.4 632.9Z" fill="#0d0d0d"/>
<path d="M590 629.8L591 629.9L592 629.8L593 628.8L594 628.7L595 629.3L596 629.3L597 628.7L598 628.7L599 630.1L600 629.4L601 629.9L602 629.6L603 628.8L604 629.9L605 629.5L606 629.5L607 628.7L608 628.9L609 629.3L610 628.7L611 630.1L612 629.5L613 628.8L614 628.8L615 629.9L616 629.5L617 629L618 628.7L619 629L620 628.8L621 629.4L622 629L623 628.9L624 630.1L625 630L626 629.3L627 628.9L628 629.1L629 629.8L630 630.1L631 629.4L632 628.7L633 628.9L634 629.4L635 629.2L636 629L637 629.5L638 630.1L639 629.2L640 629.3L641 628.8L642 629.1L643 629.1L643 633.2L642 633.4L641 632.9L640 633.2L639 633.5L638 633.4L637 633.8L636 632.6L635 633.1L634 632.7L633 632.9L632 633.3L631 633.3L630 633.1L629 633.9L628 633.3L627 632.8L626 633.3L625 633.3L624 633.1L623 633.7L622 633.8L621 633.2L620 633.4L619 633.9L618 633.7L617 633.4L616 632.6L615 633L614 633.3L613 632.6L612 632.8L611 633.1L610 633.1L609 632.7L608 633.6L607 633.6L606 633.8L605 633.7L604 633.6L603 633.6L602 633.6L601 633.4L600 633.6L599 632.8L598 633.7L597 633L596 633L595 633.4L594 633.5L593 633L592 633.3L591 633.6L590 633.2Z" fill="#0d0d0d"/>
<path d="M672 628.7L673 629.1L674 628.8L675 628.8L676 628.7L677 629.9L678 629.2L679 629.6L680 630L681 629.8L682 629L683 628.9L684 628.8L685 629.3L686 628.9L687 629.9L688 629.4L689 630L690 629.1L691 629.2L692 630.1L693 629.2L694 629.5L695 630L696 629.9L697 629.7L698 629.5L699 629.1L700 629.9L701 628.9L702 629.5L703 629L704 629.1L705 629.1L706 629.4L707 630L708 629.9L709 628.8L710 630L711 629.4L712 629.1L713 629.4L714 629.9L715 630.1L716 629L717 629.1L718 629.7L719 629.8L720 630L721 629.8L721 633.6L720 633.6L719 633.7L718 632.8L717 633.9L716 632.7L715 633.3L714 633.1L713 633.4L712 633.3L711 632.7L710 632.5L709 633L708 633.5L707 633.4L706 633.4L705 633.8L704 633.7L703 632.8L702 633.8L701 633.6L700 633.8L699 633.6L698 633.3L697 633.3L696 633.3L695 632.7L694 632.7L693 633.2L692 632.5L691 633.1L690 633.6L689 632.7L688 632.7L687 633.2L686 633.2L685 633.4L684 633.8L683 633.8L682 633.1L681 632.9L680 632.7L679 632.5L678 632.5L677 633L676 633.1L675 632.7L674 633.1L673 633.2L672 632.5Z" fill="#0d0d0d"/>
<path d="M751 629.2L752 629.5L753 628.8L754 629.1L755 628.9L756 629.9L757 629.1L758 629.1L759 629.6L760 629.8L761 629.4L762 629.7L763 628.7L764 629.7L765 629.2L766 629.5L767 629L768 629.5L769 629.8L769 633L768 633.6L767 633.6L766 632.8L765 633.1L764 632.6L763 632.5L762 633.4L761 633.4L760 632.7L759 633.1L758 632.7L757 632.8L756 633.9L755 632.5L754 633.5L753 633.2L752 633.5L751 633.7Z" fill="#0d0d0d"/>
<rect x="43.7" y="496.9" width="238.3" height="87.8" fill="none" stroke="#2a2a2a" stroke-width="1.2"/>
<rect x="284.3" y="496.9" width="241.3" height="87.8" fill="none" stroke="#2a2a2a" stroke-width="1.2"/>
<rect x="528" y="496.9" width="240.8" height="87.8" fill="none" stroke="#2a2a2a" stroke-width="1.2"/>
<rect x="43.7" y="588.3" width="238.3" height="88.5" fill="none" stroke="#2a2a2a" stroke-width="1.2"/>
<rect x="284.3" y="588.3" width="243" height="88.5" fill="none" stroke="#2a2a2a" stroke-width="1.2"/>
<rect x="529.8" y="588.3" width="240.2" height="88.5" fill="none" stroke="#2a2a2a" stroke-width="1.2"/>
<text x="148" y="493.3" font-size="12.6" fill="#141414" text-anchor="middle">Sham</text>
<text x="409.8" y="492.6" font-size="12.6" fill="#141414" text-anchor="middle">Injury</text>
<text x="657" y="492.4" font-size="12.6" fill="#141414" text-anchor="middle">Injury + Se-Se@HA</text>
<text x="37.6" y="538.8" font-size="11.5" fill="#141414" text-anchor="middle" transform="rotate(-90 37.6 538.8)">TA</text>
<text x="37.6" y="621" font-size="11.5" fill="#141414" text-anchor="middle" transform="rotate(-90 37.6 621)">GS</text>
</g>
<g id="pj">
<defs><filter id="soft" x="-5%" y="-5%" width="110%" height="110%"><feGaussianBlur stdDeviation="0.45"/></filter><clipPath id="cj1"><rect x="27" y="897.7" width="165.1" height="165.1"/></clipPath><clipPath id="cj2"><rect x="197.3" y="897.7" width="165.2" height="165.1"/></clipPath><clipPath id="cj3"><rect x="367.2" y="897.7" width="164.7" height="164.8"/></clipPath></defs>
<g clip-path="url(#cj1)"><g filter="url(#soft)">
<rect x="20" y="890" width="180" height="180" fill="#e25e9e"/>
<path d="M105.5 1000.4L100.6 974.6M100.6 974.6L75.6 984.2M75.6 984.2L85.6 1007.9M85.6 1007.9L97.1 1008.8M97.1 1008.8L105.5 1000.4M202.7 981.4L185.5 967.1M185.5 967.1L195.4 950.7M195.4 950.7L207.8 973.1M207.8 973.1L202.7 981.4M113.3 1006L124.7 1001.7M124.7 1001.7L125.3 988.8M125.3 988.8L102.4 970.4M102.4 970.4L100.6 974.6M105.5 1000.4L113.3 1006M57.9 984L52.7 1002.7M52.7 1002.7L39.9 994.5M39.9 994.5L31.8 983.3M31.8 983.3L31.2 981.8M31.2 981.8L43 967.9M43 967.9L46.6 969M46.6 969L57.9 984M120.4 1028.8L135.2 1021.5M135.2 1021.5L143.9 1025.6M143.9 1025.6L150.7 1042M150.7 1042L143.8 1071.2M143.8 1071.2L142.8 1070.5M142.8 1070.5L119 1031.9M119 1031.9L120.4 1028.8M17.1 930.8L15 935.8M15 935.8L32 949.6M32 949.6L37.2 939.1M37.2 939.1L27.1 928.3M27.1 928.3L17.1 930.8M45.4 1053.7L34.3 1064.5M34.3 1064.5L25.4 1060.4M25.4 1060.4L-1.4 1024.9M-1.4 1024.9L27.6 1027.7M27.6 1027.7L37.2 1037M37.2 1037L45.4 1053.7M155.6 906.6L186.4 846.6M186.4 846.6L210.2 751.9M210.2 751.9L149.3 774.6M149.3 774.6L106.3 855.2M106.3 855.2L143.3 908.2M143.3 908.2L155.6 906.6M183.5 1067.8L197.7 1057.5M197.7 1057.5L211.3 1069.7M211.3 1069.7L197.2 1092.2M197.2 1092.2L183.8 1072.4M183.8 1072.4L183.5 1067.8M143.9 1025.6L151 1010.3M151 1010.3L137.3 985.8M137.3 985.8L125.3 988.8M124.7 1001.7L135.2 1021.5M32.2 844.2L36.2 888.7M36.2 888.7L39.1 893.3M39.1 893.3L53.2 894.5M53.2 894.5L57 891.3M57 891.3L56.5 885.8M56.5 885.8L32.2 844.2M51.1 932.7L48.9 918.1M48.9 918.1L35.9 912.2M35.9 912.2L42.7 939.1M42.7 939.1L43.8 939.7M43.8 939.7L51.1 932.7M104.9 1041.2L112.2 1066.2M112.2 1066.2L107.7 1071.7M107.7 1071.7L77 1044.5M77 1044.5L81.9 1027.2M81.9 1027.2L104.9 1041.2M113.3 1006L120.4 1028.8M97.1 1008.8L115 1031.9M115 1031.9L119 1031.9M87.3 921.4L110.6 919.5M110.6 919.5L114.3 924.4M114.3 924.4L116.1 950.3M116.1 950.3L100.5 959.5M100.5 959.5L90.7 948.2M90.7 948.2L87.3 921.4M189.3 1017.2L190.9 1032.6M190.9 1032.6L174.1 1037M174.1 1037L162.9 1012.2M162.9 1012.2L165.6 1008.5M165.6 1008.5L189.3 1017.2M79.2 910.9L87.3 921.4M90.7 948.2L71.3 946.4M71.3 946.4L68.4 941.3M68.4 941.3L64.8 925.6M64.8 925.6L74.9 909.4M74.9 909.4L79.2 910.9M166.3 987.6L141.2 969.5M141.2 969.5L140.6 967.2M140.6 967.2L144.3 955.8M144.3 955.8L151.2 951.9M151.2 951.9L172.5 961.4M172.5 961.4L175.8 967.1M175.8 967.1L175.8 981.1M175.8 981.1L174 984.2M174 984.2L166.3 987.6M185.5 967.1L175.8 967.1M172.5 961.4L172.7 940.6M172.7 940.6L180.4 930.5M180.4 930.5L182.4 930.4M182.4 930.4L194.4 940.3M194.4 940.3L195.4 950.7M202.7 981.4L204.7 999.9M204.7 999.9L175.8 981.1M207.8 973.1L290 974.2M290 974.2L302.6 926.3M302.6 926.3L194.4 940.3M21.4 999.1L-8 989.8M-8 989.8L-22.1 1010.4M-22.1 1010.4L-1.4 1024.9M27.6 1027.7L32.7 1013.4M32.7 1013.4L30.4 1007.6M30.4 1007.6L21.4 999.1M152.2 930.2L172.7 940.6M180.4 930.5L155.6 906.6M143.3 908.2L143.3 910.4M143.3 910.4L152.2 930.2M33.3 956.6L32 949.6M15 935.8L12.5 937.2M12.5 937.2L8.8 962.3M8.8 962.3L11.5 963.6M11.5 963.6L33.3 956.6M190.9 1032.6L198.5 1041.9M198.5 1041.9L219.2 1043.8M219.2 1043.8L226.6 1021.7M226.6 1021.7L208.1 1007.1M208.1 1007.1L190 1015.8M190 1015.8L189.3 1017.2M27.7 907.5L31.9 908.2M31.9 908.2L35.9 912.2M42.7 939.1L37.2 939.1M27.1 928.3L27.7 907.5M5.1 890.4L-45.3 832.3M-45.3 832.3L36.2 888.7M39.1 893.3L31.9 908.2M27.7 907.5L5.1 890.4M182.4 930.4L186.4 846.6M137.3 985.8L141.2 969.5M140.6 967.2L116.1 950.3M100.5 959.5L102.4 970.4M46.4 1054L56.2 1032.7M56.2 1032.7L49.3 1022.1M49.3 1022.1L37.2 1037M45.4 1053.7L46.4 1054M53 1003.6L48.8 1020.1M48.8 1020.1L32.7 1013.4M30.4 1007.6L39.9 994.5M52.7 1002.7L53 1003.6M31.2 981.8L11.5 963.6M33.3 956.6L43 967.9M71.3 946.4L67.6 955.9M67.6 955.9L51.6 952.8M51.6 952.8L43.8 939.7M51.1 932.7L68.4 941.3M53.8 1059.4L76.6 1044.8M76.6 1044.8L76.6 1044.8M76.6 1044.8L79.4 1071.8M79.4 1071.8L61.8 1072.6M61.8 1072.6L53.8 1059.4M75.1 983.8L57.9 984M46.6 969L51.6 952.8M67.6 955.9L75.1 983.8M165.6 1008.5L166.3 987.6M174 984.2L190 1015.8M34.3 1064.5L62.1 1132.3M62.1 1132.3L81 1215.8M81 1215.8L12.5 1500.1M12.5 1500.1L22.1 1067.5M22.1 1067.5L25.4 1060.4M64.8 925.6L52.7 916.3M52.7 916.3L48.9 918.1M151.2 951.9L152.2 930.2M79.2 910.9L96.4 857.5M96.4 857.5L94.4 856.7M94.4 856.7L56.5 885.8M57 891.3L74.9 909.4M21.4 999.1L31.8 983.3M85.6 1007.9L81.8 1026.6M81.8 1026.6L53 1003.6M75.1 983.8L75.6 984.2M142.8 1070.5L112.2 1066.2M107.7 1071.7L104.2 1109.6M104.2 1109.6L113.7 1152.5M113.7 1152.5L158.4 1130.5M158.4 1130.5L150.2 1082.3M150.2 1082.3L143.8 1071.2M52.7 916.3L53.2 894.5M183.5 1067.8L172.4 1045.6M172.4 1045.6L174.1 1037M198.5 1041.9L197.7 1057.5M53.8 1059.4L46.4 1054M62.1 1132.3L61.8 1072.6M208.1 1007.1L204.7 999.9M96.4 857.5L101 857.8M101 857.8L110.6 919.5M76.6 1044.8L77 1044.5M81.9 1027.2L81.8 1026.6M48.8 1020.1L49.3 1022.1M56.2 1032.7L76.6 1044.8M129.3 927.5L114.3 924.4M144.3 955.8L129.3 927.5M5.1 890.4L17.1 930.8M104.9 1041.2L115 1031.9M129.3 927.5L143.3 910.4M302.6 926.3L451.6 586.6M451.6 586.6L210.2 751.9M106.3 855.2L101 857.8M79.4 1071.8L104.2 1109.6M151 1010.3L162.9 1012.2M-22.1 1010.4L-76.1 1019.9M-76.1 1019.9L-97.9 1099.5M-97.9 1099.5L22.1 1067.5M-8 989.8L-2.2 966.1M-2.2 966.1L8.8 962.3M172.4 1045.6L150.7 1042M150.2 1082.3L183.8 1072.4" stroke="#f3a9cb" stroke-width="0.8" fill="none"/>
<path d="M34.6 897.7L36.3 915L41.5 939.2L40.8 960L36.3 980.8L41.5 991.1L43.3 1015.4L38.1 1036.1L41.5 1062.8M91.7 897.7L86.5 915L79.6 928.8L67.5 944.4L41.5 942.7M192.1 980.8L162.7 998.1L138.5 1006.7L110.8 1001.5L96.9 973.8L86.5 953.1L79.6 928.8M110.8 1001.5L93.5 1022.3L76.2 1050L69.2 1062.8M138.5 1006.7L145.4 1025.8L143.6 1062.8M159.2 897.7L152.3 921.9L148.8 942.7L145.4 970.4L143.6 1001.5M41.5 991.1L62.3 973.8L83.1 980.8L96.9 973.8M131.5 925.4L148.8 942.7L173.1 939.2L192.1 944.4M27.7 984.2L41.5 991.1M43.3 1015.4L69.2 1005L93.5 1022.3M38.1 1036.1L58.8 1027.5L76.2 1032.7M145.4 1025.8L173.1 1032.7L192.1 1022.3M162.7 998.1L169.6 973.8L192.1 966.9M103.8 897.7L114.2 921.9L131.5 925.4L138.5 897.7" stroke="#f9d0e2" stroke-width="1.3" fill="none" stroke-linejoin="round"/>
<g fill="#7a1f62"><circle cx="130.1" cy="1020.2" r="0.8"/><circle cx="182.6" cy="1019.9" r="0.9"/><circle cx="32.5" cy="974.6" r="0.9"/><circle cx="134.4" cy="1046.4" r="0.5"/><circle cx="104.8" cy="938.4" r="0.7"/><circle cx="122.1" cy="899.9" r="0.6"/><circle cx="73.6" cy="1049" r="0.8"/><circle cx="53.9" cy="1029.3" r="0.6"/><circle cx="129.2" cy="918.6" r="0.5"/><circle cx="171" cy="932.3" r="0.6"/><circle cx="189.2" cy="1041.7" r="0.6"/><circle cx="185.8" cy="986.7" r="0.8"/><circle cx="61.4" cy="1053.1" r="0.8"/><circle cx="186.6" cy="1045.3" r="0.6"/><circle cx="87.1" cy="925.1" r="0.6"/><circle cx="38.4" cy="947.5" r="0.7"/><circle cx="28.3" cy="1009.6" r="0.6"/><circle cx="78.7" cy="1032.8" r="0.7"/><circle cx="79.6" cy="977.1" r="0.8"/><circle cx="37.1" cy="1058.7" r="0.5"/><circle cx="151" cy="1037.2" r="0.5"/><circle cx="157.2" cy="958.2" r="0.7"/><circle cx="29.2" cy="905.4" r="0.6"/><circle cx="184.7" cy="930.1" r="0.8"/><circle cx="180.5" cy="1053.2" r="0.6"/><circle cx="86" cy="984.3" r="0.8"/><circle cx="45.5" cy="1021.3" r="0.8"/><circle cx="169" cy="903.7" r="0.9"/><circle cx="42.7" cy="954" r="0.7"/><circle cx="178.6" cy="953.8" r="0.9"/><circle cx="117.3" cy="949.3" r="0.6"/><circle cx="56.9" cy="910.6" r="0.6"/><circle cx="141" cy="1062.3" r="0.6"/><circle cx="35.7" cy="1060.6" r="0.7"/><circle cx="94.4" cy="936.9" r="0.7"/><circle cx="163.5" cy="972.9" r="0.7"/><circle cx="36.9" cy="1048.9" r="0.5"/><circle cx="108.8" cy="1036.1" r="0.6"/><circle cx="148" cy="1054.5" r="0.8"/><circle cx="157.2" cy="915.3" r="0.7"/><circle cx="52.2" cy="1037.2" r="0.6"/><circle cx="102.2" cy="1062.7" r="0.8"/><circle cx="188.2" cy="972.6" r="0.7"/><circle cx="147.6" cy="976.8" r="0.6"/><circle cx="94.1" cy="921.9" r="0.7"/><circle cx="190.2" cy="1056.2" r="0.8"/><circle cx="109.8" cy="953.6" r="0.5"/><circle cx="72.5" cy="1026.8" r="0.8"/><circle cx="87.1" cy="1027.5" r="0.8"/><circle cx="141.9" cy="1007.3" r="0.8"/><circle cx="87.4" cy="1014" r="0.6"/><circle cx="107.5" cy="1024.8" r="0.8"/><circle cx="76" cy="1053.8" r="0.8"/><circle cx="123.2" cy="899.6" r="0.7"/><circle cx="68.9" cy="1008.6" r="0.7"/><circle cx="162" cy="1004.6" r="0.8"/><circle cx="84.9" cy="1004" r="0.8"/><circle cx="163.9" cy="955.5" r="0.8"/><circle cx="170.7" cy="1011.3" r="0.9"/><circle cx="185" cy="983.2" r="0.7"/></g>
</g></g>
<g clip-path="url(#cj2)"><g filter="url(#soft)">
<rect x="190" y="890" width="180" height="180" fill="#ecd3dc"/>
<path d="M198.3 898.4C199.1 897.9 206 898 206.8 898.4C207.6 898.8 207.8 901.7 207.5 902.3C207.2 902.9 204.2 904.5 203.4 904.6C202.5 904.7 198.8 904 198.3 903.4C197.9 902.9 197.5 898.9 198.3 898.4ZM200.6 906.6C201.6 905.9 209.1 905.1 210.2 905.4C211.3 905.7 212.7 908.8 212.5 910C212.3 911.1 209 917.1 207.9 918C206.7 919 200.7 920.8 199.9 920.3C199 919.8 198.7 913.5 198.7 912.3C198.8 911 199.5 907.2 200.6 906.6ZM223.1 903.2C224.8 902.7 238.5 902.3 240.3 902.8C242.1 903.2 242.8 906.7 242.6 907.8C242.4 908.9 239.5 914.2 238 914.7C236.5 915.2 228 914.1 226.6 913.5C225.1 913 222.3 909.9 222 909C221.7 908 221.4 903.8 223.1 903.2ZM248.1 903.1C249 902.2 255.6 902.5 256.8 903.1C258 903.8 261.1 908.6 261.4 910C261.7 911.4 261.1 917.1 260.3 918C259.4 919 253.4 920.7 252.2 920.3C251 919.9 247.6 915 247.2 913.5C246.8 911.9 247.2 904.1 248.1 903.1ZM212.1 916.6C213.1 915.9 221.2 915.2 222.4 915.5C223.6 915.8 225 919.2 224.7 920.1C224.4 920.9 220.2 924.3 219 924.7C217.7 925 211.6 924.2 210.9 923.5C210.3 922.8 211 917.4 212.1 916.6ZM233.2 914.3C234.1 913.4 241.3 912.6 242.4 913.2C243.4 913.8 244.9 919.8 244.7 921.2C244.5 922.6 241.2 927.9 240.1 928.1C239.1 928.3 233.9 924.8 233.2 923.5C232.6 922.2 232.4 915.3 233.2 914.3ZM198.4 925.5C198.8 924.9 202.6 926 203 926.7C203.3 927.3 202.7 931.8 202.3 932.4C201.9 933 198.8 934.2 198.4 933.5C198 932.9 198 926.1 198.4 925.5ZM210.8 926.6C212.2 925.4 225 921.7 226.9 922.1C228.8 922.4 231.3 928.7 231.4 930.1C231.6 931.4 229.8 936.4 228 936.9C226.2 937.5 213.5 936.7 212 935.8C210.4 934.9 209.5 927.9 210.8 926.6ZM231 932.2C232 931.5 239.3 929.5 240.2 929.9C241.1 930.3 241.8 935.9 241.3 936.8C240.9 937.7 236.7 940.1 235.6 940.2C234.6 940.3 230.3 938.7 229.9 937.9C229.5 937.2 230.1 932.9 231 932.2ZM243.3 924.3C244.2 923.4 251.4 922.2 252.4 923.1C253.5 924.1 254.7 932.7 254.7 934.6C254.7 936.5 253.3 943.1 252.4 943.7C251.6 944.4 246.5 942.5 245.5 941.4C244.6 940.4 242.3 933.9 242.1 932.3C241.9 930.7 242.3 925.1 243.3 924.3ZM259.9 917.6C260.9 916.6 266.8 915.5 268 916.4C269.2 917.4 272.8 925.8 273 927.9C273.2 930 271.2 938.5 270.3 939.3C269.3 940.2 263.4 938.2 262.2 937C261.1 935.9 257.9 928.5 257.6 926.7C257.4 924.9 259 918.5 259.9 917.6ZM270 929.9C270.8 928.7 277 928 278 928.7C278.9 929.5 280.5 936.5 280.3 937.9C280.1 939.3 276.8 943.3 275.7 943.6C274.7 944 269.4 942.6 268.8 941.4C268.3 940.1 269.1 931 270 929.9ZM255.5 938.9C256.3 938.2 261.7 937.1 262.4 937.7C263.2 938.3 264 944.8 263.6 945.7C263.2 946.7 258.7 948.1 257.8 948C257 947.9 254.6 945.4 254.4 944.6C254.2 943.8 254.8 939.5 255.5 938.9ZM264.4 945.5C265.2 944.9 271.6 943.9 272.4 944.4C273.3 944.9 274 950.4 273.6 951.3C273.2 952.2 268.7 954.3 267.9 954.3C267 954.3 264.7 952.1 264.4 951.3C264.1 950.5 263.7 946.2 264.4 945.5ZM276.6 943.2C277.5 942.3 284.5 942.3 285.8 943.2C287 944 290 950.8 290.3 952.3C290.7 953.9 290 959.7 289.2 960.4C288.4 961 282.4 960 281.2 959.2C280 958.5 276.6 953.8 276.1 952.3C275.7 950.9 275.7 944 276.6 943.2ZM276.6 898.4C277.5 897.8 286.8 897.9 288 898.4C289.3 898.8 290.6 902.5 290.3 903.4C290 904.3 285.8 907.9 284.6 908C283.4 908.1 278.5 905.4 277.7 904.5C277 903.7 275.6 898.9 276.6 898.4ZM294.4 898.4C295.3 897.7 304.6 897.8 305.8 898.4C307.1 898.9 308 903.7 307.7 904.5C307.4 905.4 303.5 907.5 302.4 907.5C301.3 907.6 296.3 906.1 295.5 905.2C294.8 904.4 293.4 899 294.4 898.4ZM284.4 909.9C285.6 909.1 295.4 906.7 297 907.1C298.5 907.6 301.5 913 301.5 914.5C301.5 916 298.2 922.8 297 923.6C295.7 924.4 289 923.9 287.8 923.2C286.6 922.4 284 916.8 283.7 915.6C283.3 914.4 283.1 910.7 284.4 909.9ZM301.1 912.1C302.2 910.9 310.4 910.1 311.4 910.9C312.5 911.8 313 919.9 312.6 921.3C312.1 922.6 308 925.6 306.8 925.8C305.7 926 300.5 924.8 300 923.5C299.4 922.3 300.1 913.2 301.1 912.1ZM291.1 925.5C291.8 924.8 298.2 923.8 299.1 924.4C300.1 924.9 301.6 930.3 301.4 931.2C301.2 932.2 297.7 934.6 296.8 934.7C295.9 934.8 292.3 933.2 291.8 932.4C291.3 931.5 290.4 926.2 291.1 925.5ZM298.8 929.9C300.3 928.8 311.1 927.5 312.6 928.1C314 928.7 315.3 935.5 314.9 936.8C314.4 938.1 309.7 941.5 308 941.8C306.3 942.2 297.4 941.3 296.5 940.2C295.7 939.1 297.3 931 298.8 929.9ZM295.5 943.3C296.8 942.5 306.8 941.8 308.1 942.1C309.5 942.4 310.8 945.4 310.4 946.7C310 948 304.8 954.9 303.5 955.9C302.3 956.8 297.5 958 296.7 957.5C295.8 956.9 294.5 951.4 294.4 950.1C294.3 948.8 294.3 944 295.5 943.3ZM317.7 898.3C318.7 897.4 327.9 897.6 329.2 898.3C330.5 899 331.8 904.4 331.5 905.6C331.2 906.8 326.9 911.2 325.8 911.4C324.6 911.6 319.6 909.1 318.9 907.9C318.2 906.7 316.8 899.2 317.7 898.3ZM342.3 898.4C342.9 898 350.7 898.1 351.5 898.4C352.2 898.8 350.9 901.9 350.3 902.3C349.7 902.7 345.3 903.4 344.6 903C343.8 902.6 341.7 898.8 342.3 898.4ZM348.9 903.2C350.1 902.5 360.3 900 361.5 900.9C362.8 901.9 363.4 912.3 362.7 913.5C361.9 914.8 354.8 915.1 353.5 914.7C352.2 914.3 348.7 910 348.2 909C347.8 907.9 347.7 904 348.9 903.2ZM321 915.4C321.8 914.1 330.9 913.5 332.5 914.3C334.1 915 338.1 922 338.2 923.4C338.3 924.9 334.9 929.8 333.6 930.3C332.4 930.8 325.6 929.8 324.5 928.5C323.3 927.1 320.3 916.7 321 915.4ZM356.8 915.5C357.2 914.8 362 914.7 362.5 915.5C363.1 916.3 362.9 923.9 362.5 924.7C362.1 925.4 358.5 924.4 357.9 923.5C357.4 922.7 356.4 916.2 356.8 915.5ZM331.1 927.7C331.7 926.5 340 925.2 341.4 925.9C342.7 926.5 345.9 933.2 346 934.6C346.1 935.9 343.6 939.9 342.5 940.3C341.5 940.7 335.6 940.3 334.5 939.1C333.5 938 330.4 928.9 331.1 927.7ZM340.7 939.9C341.6 938.9 351.2 937.6 352.6 938.3C354 939.1 356.3 946.7 356 948C355.7 949.2 350.4 952 349.1 952.1C347.9 952.2 343 950.2 342.3 949.1C341.5 948 339.7 940.9 340.7 939.9ZM353.4 946.6C354 945.3 361.7 944.4 362.6 945.5C363.4 946.5 363.2 956.8 362.6 958.1C361.9 959.3 356.5 960.3 355.7 959.2C354.9 958.2 352.8 947.9 353.4 946.6ZM208.6 942.1C209.8 941 223 943.4 224.7 944.4C226.4 945.3 227.5 951 227 952.4C226.4 953.7 220.4 958.9 219 959.3C217.5 959.6 212.6 957.4 211.6 955.8C210.7 954.2 207.4 943.1 208.6 942.1ZM225.4 947.5C226.6 946.3 234.7 947.4 235.8 948.6C236.9 949.9 237.5 958.8 237.4 961.2C237.3 963.6 235.5 973.8 234.6 975C233.7 976.1 228.7 975.1 227.7 973.8C226.7 972.6 223.8 963.6 223.6 961.2C223.4 958.8 224.3 948.6 225.4 947.5ZM244.4 954.3C245.7 953.1 249.7 954.4 251.3 955.4C252.8 956.5 261.1 964.5 261.6 965.7C262.1 967 259.1 968.4 257 969.2C254.9 969.9 240.9 973.8 239.1 973.7C237.3 973.6 237 969.8 237.5 968C238 966.2 243.1 955.4 244.4 954.3ZM253.2 967.8C254.5 967.1 265.5 966.1 267 966.6C268.4 967.2 270.2 972.7 269.3 973.5C268.3 974.4 258.1 975.7 256.7 975.8C255.2 975.9 253.5 975.4 253.2 974.7C252.9 973.9 252 968.5 253.2 967.8ZM237.7 974.4C239.2 974 251.1 974.9 252.6 975.5C254 976.2 254.3 980.1 253.7 981.3C253.1 982.4 247.1 987.6 245.7 988.1C244.3 988.7 239.2 987.7 238.3 987C237.5 986.3 236.1 981.3 236.1 980.1C236 979 236.1 974.8 237.7 974.4ZM254.4 976C257.5 974.9 277.1 976.6 279.6 977C282.1 977.3 283.4 978.7 281.9 979.9C280.4 981.2 266.7 988.3 263.5 990.3C260.4 992.3 249.7 1001.3 248 1001.7C246.2 1002.1 244.3 996 244.1 994.8C243.8 993.7 244.3 990.8 245.2 989.1C246.2 987.4 251.2 977.2 254.4 976ZM201 966.6C202 965.7 210.1 964.9 211.3 965.4C212.4 966 213.8 970.8 213.6 972.3C213.4 973.8 210 980.4 209 981.5C207.9 982.5 203 984.4 202.1 983.8C201.3 983.1 199.9 976.2 199.8 974.6C199.7 973 199.9 967.4 201 966.6ZM204.3 981.1C205.7 980.1 217.5 977.3 219.2 977.6C220.8 978 223.1 982.9 222.6 984.5C222.1 986.1 215 993.8 213.4 994.8C211.8 995.9 206.3 996.6 205.4 996C204.5 995.4 203.2 989.3 203.1 988C203 986.6 202.8 982 204.3 981.1ZM217.6 986.6C218.4 985.2 225.5 982.4 226.8 983.2C228.1 983.9 231.5 992.8 231.4 994.6C231.3 996.5 226.8 1003.4 225.6 1003.8C224.5 1004.2 219.5 1000.8 218.8 999.2C218 997.7 216.9 988.1 217.6 986.6ZM198.7 998.9C199.7 997.5 208.7 997.1 210.1 997.7C211.6 998.4 214.7 1004.4 214.7 1005.7C214.7 1007.1 211.6 1012 210.1 1012.6C208.7 1013.2 199.7 1013.9 198.7 1012.6C197.6 1011.4 197.6 1000.2 198.7 998.9ZM305.5 958.8C306.4 957.5 313.4 956.1 314.7 956.5C316 956.9 319.3 961.9 319.7 963.4C320.1 964.8 319.6 971.3 318.8 972.5C318 973.8 312.5 976.9 311.2 976.7C310 976.5 305.6 971.9 305 970.2C304.5 968.6 304.6 960 305.5 958.8ZM288.7 983.4C289.7 982.3 299.7 977.7 301.4 977.7C303 977.7 307 982.4 307.1 983.4C307.2 984.5 304 988.5 302.5 989.2C301 989.8 292.3 990.8 291 990.3C289.8 989.8 287.8 984.6 288.7 983.4ZM303.7 986.6C305.2 986 317.5 984.2 318.9 985C320.2 985.9 318.9 994.3 318.2 995.8C317.5 997.3 312.5 1001.3 311.3 1001.5C310.2 1001.7 306.4 998.9 305.6 998.1C304.8 997.2 303 993.4 302.8 992.4C302.7 991.3 302.3 987.3 303.7 986.6ZM283.2 991.1C284.3 990.2 292.9 989.6 294.7 989.9C296.5 990.3 302.5 993.3 302.7 994.5C302.9 995.8 298.4 1002.6 297 1003.7C295.5 1004.7 288 1006.4 286.7 1006C285.4 1005.6 283.1 1000.5 282.8 999.1C282.5 997.7 282.1 991.9 283.2 991.1ZM287.6 1003.3C289.7 1002.2 306 998.5 308.2 998.8C310.5 999 312.3 1004 311.7 1005.6C311.1 1007.3 303.3 1015.9 301.4 1017.1C299.5 1018.3 292.5 1019.5 291.1 1018.9C289.6 1018.4 286.1 1012.8 285.8 1011.4C285.5 1009.9 285.6 1004.5 287.6 1003.3ZM259.8 996.6C261 995.7 271.9 993.9 273.6 994.8C275.3 995.6 277.9 1004.1 278.2 1005.8C278.4 1007.4 276.9 1012 275.9 1012.6C274.8 1013.3 268.1 1013.4 266.7 1012.6C265.3 1011.9 261.6 1006.1 261 1004.6C260.3 1003.2 258.7 997.5 259.8 996.6ZM327.3 958.7C327.9 957 333.1 957 334.6 958.3C336.2 959.5 343.5 970.9 343.8 972.5C344.1 974.1 339.6 975.5 338.1 975.9C336.6 976.3 328.8 978.6 327.8 977.1C326.8 975.5 326.7 960.4 327.3 958.7ZM328.8 977.8C330.4 976.6 342.9 974 344.9 974.3C346.8 974.6 350.5 980 350.6 981.2C350.7 982.3 347.9 985.8 346 986.9C344.1 988.1 331.7 993.8 330 993.8C328.2 993.8 327.3 988.4 327.2 986.9C327.1 985.5 327.2 978.9 328.8 977.8ZM345.6 983.3C346.3 982.1 353.6 981.1 354.8 982.1C355.9 983.2 358.3 992.9 358.2 994.7C358.1 996.5 354.7 1001.6 353.6 1001.6C352.6 1001.6 347.5 996.4 346.7 994.7C346 993 344.8 984.4 345.6 983.3ZM326.6 1001.2C328.2 1000 341.6 993.4 343.7 993.2C345.8 993 349.5 997.6 349.5 998.9C349.5 1000.3 345.5 1006.9 343.7 1008.1C342 1009.3 331.6 1011.6 330 1011.5C328.4 1011.4 326.2 1007.9 325.9 1007C325.6 1006 324.9 1002.5 326.6 1001.2ZM341.1 1007.8C342 1006.7 350.3 1003.7 351.4 1004.4C352.6 1005 354.1 1013.2 353.7 1014.7C353.4 1016.2 349.1 1020.2 348 1020.4C347 1020.6 342.9 1018.1 342.3 1017C341.6 1015.8 340.3 1009 341.1 1007.8ZM359.1 1003.2C359.4 1001.3 362.2 1001.1 362.5 1003.2C362.8 1005.3 362.8 1024.2 362.5 1026.1C362.2 1028 359.4 1025.9 359.1 1023.8C358.7 1021.7 358.7 1005.1 359.1 1003.2ZM233.3 998.7C234 997.3 239.2 996.2 240.1 997.5C241.1 998.8 243.4 1009.8 243.6 1012.4C243.8 1015 243.1 1024.7 242.4 1026.2C241.8 1027.6 237.6 1029.7 236.7 1028.5C235.7 1027.2 232.4 1015.1 232.1 1012.4C231.8 1009.7 232.5 1000 233.3 998.7ZM252.1 1008.8C253.4 1008 262.2 1006.7 263.6 1007.7C265 1008.6 267.2 1017.5 267 1019.1C266.8 1020.8 262.6 1025.6 261.3 1026C260 1026.4 254.3 1024.6 253.3 1023.7C252.2 1022.9 250 1018.2 249.8 1016.9C249.7 1015.5 250.9 1009.7 252.1 1008.8ZM245.5 1025.5C246.6 1024.4 255.4 1025.1 256.9 1025.5C258.4 1025.9 261.7 1028.2 261.5 1030.1C261.3 1031.9 256 1044.4 254.6 1046.1C253.3 1047.8 247.5 1049.2 246.6 1048.4C245.7 1047.6 244.4 1039 244.3 1036.9C244.2 1034.8 244.3 1026.5 245.5 1025.5ZM245.4 1050.1C246.8 1048.7 259.6 1046.6 261.4 1047.8C263.2 1048.9 266.3 1061.3 264.9 1062.7C263.4 1064 247.2 1063.8 245.4 1062.7C243.6 1061.5 243.9 1051.4 245.4 1050.1ZM323.2 1014.4C324.4 1013.3 335.1 1012.2 337 1013.3C338.9 1014.3 343.7 1024.3 343.8 1025.9C344 1027.5 339.9 1030.5 338.1 1030.5C336.3 1030.5 325.7 1027.3 324.4 1025.9C323 1024.4 322.1 1015.6 323.2 1014.4ZM322.1 1030C323.8 1028.6 339.4 1030.3 341.6 1031.1C343.8 1031.9 347 1037.5 346.1 1039.1C345.3 1040.7 334.5 1047.7 332.4 1048.3C330.3 1048.9 324.2 1047.7 323.2 1046C322.3 1044.3 320.4 1031.3 322.1 1030ZM336.5 1045.6C338 1043.2 350.5 1035.3 352.6 1035.3C354.7 1035.3 359.1 1043.6 359.5 1045.6C359.8 1047.6 357.3 1055.5 356 1057.1C354.8 1058.7 347.5 1062.4 345.7 1062.8C343.9 1063.2 337.4 1063.2 336.5 1061.7C335.7 1060.1 335.1 1048 336.5 1045.6ZM357.9 1025.6C358.2 1024.9 362.1 1024.8 362.5 1025.6C362.9 1026.5 362.8 1034.1 362.5 1034.8C362.2 1035.5 359.5 1034.5 359.1 1033.7C358.7 1032.8 357.6 1026.4 357.9 1025.6ZM296.5 1052.3C298.1 1051.3 312.1 1050.2 314.8 1051.2C317.5 1052.1 327.9 1061.6 326.3 1062.6C324.6 1063.7 299.2 1063.6 296.5 1062.6C293.7 1061.7 294.8 1053.4 296.5 1052.3Z" fill="#ee9fc4"/>
<path d="M198.7 898.7C199.4 898.3 205.7 898.3 206.4 898.7C207.2 899 207.4 901.7 207.1 902.2C206.8 902.7 204.1 904.2 203.3 904.3C202.6 904.4 199.2 903.8 198.7 903.3C198.3 902.7 198 899.1 198.7 898.7ZM248.7 903.9C249.5 903 255.5 903.3 256.6 903.9C257.7 904.5 260.5 908.9 260.8 910.1C261 911.4 260.5 916.6 259.7 917.4C259 918.3 253.5 919.9 252.4 919.5C251.4 919.1 248.2 914.7 247.9 913.3C247.5 911.8 247.9 904.8 248.7 903.9ZM277.2 944C278 943.2 284.4 943.2 285.5 944C286.7 944.7 289.4 950.9 289.7 952.3C290 953.7 289.4 959 288.6 959.6C287.9 960.1 282.4 959.2 281.4 958.5C280.3 957.9 277.2 953.6 276.8 952.3C276.4 951 276.4 944.7 277.2 944ZM277.2 898.7C278.1 898.2 286.5 898.3 287.6 898.7C288.8 899.2 290 902.5 289.7 903.3C289.4 904.1 285.5 907.4 284.5 907.5C283.4 907.6 278.9 905.2 278.3 904.4C277.6 903.6 276.4 899.3 277.2 898.7ZM296.1 943.8C297.2 943.1 306.3 942.5 307.5 942.8C308.8 943.1 310 945.8 309.6 946.9C309.2 948.1 304.5 954.4 303.4 955.3C302.2 956.1 297.9 957.2 297.1 956.7C296.3 956.2 295.1 951.2 295 950.1C294.9 948.9 294.9 944.5 296.1 943.8ZM318.4 898.9C319.2 898.1 327.6 898.3 328.8 898.9C329.9 899.5 331.2 904.4 330.9 905.5C330.6 906.6 326.7 910.5 325.7 910.7C324.6 910.9 320.1 908.7 319.4 907.6C318.8 906.5 317.5 899.7 318.4 898.9ZM342.7 898.6C343.3 898.2 350.4 898.3 351.1 898.6C351.7 898.9 350.6 901.8 350 902.2C349.4 902.5 345.5 903.1 344.8 902.8C344.1 902.5 342.2 899 342.7 898.6ZM341.3 940.4C342.2 939.5 350.9 938.3 352.2 939C353.4 939.7 355.6 946.6 355.3 947.7C355 948.9 350.2 951.4 349 951.5C347.9 951.6 343.5 949.8 342.8 948.8C342.1 947.8 340.5 941.3 341.3 940.4ZM289.6 983.6C290.5 982.5 299.5 978.4 301.1 978.4C302.6 978.4 306.2 982.6 306.3 983.6C306.4 984.5 303.4 988.2 302.1 988.8C300.8 989.3 292.8 990.3 291.7 989.8C290.6 989.3 288.8 984.6 289.6 983.6ZM260.7 997.3C261.7 996.5 271.6 994.9 273.2 995.7C274.7 996.4 277.1 1004.2 277.3 1005.7C277.5 1007.1 276.2 1011.3 275.2 1011.9C274.3 1012.5 268.2 1012.6 266.9 1011.9C265.7 1011.2 262.3 1006 261.7 1004.6C261.2 1003.3 259.6 998.2 260.7 997.3ZM329.6 978.3C331.1 977.2 342.4 974.9 344.2 975.2C346 975.4 349.3 980.4 349.4 981.4C349.5 982.5 347 985.6 345.3 986.6C343.5 987.7 332.3 992.8 330.7 992.8C329.1 992.8 328.3 987.9 328.2 986.6C328.1 985.3 328.2 979.3 329.6 978.3ZM297.6 1052.8C299.1 1051.8 311.7 1050.9 314.2 1051.7C316.7 1052.6 326.1 1061.2 324.6 1062.1C323.1 1063.1 300 1063 297.6 1062.1C295.1 1061.3 296 1053.7 297.6 1052.8Z" fill="#e06aa4" stroke="#e06aa4" stroke-width="0.8" stroke-linejoin="round"/>
<path d="M201 907.1C201.9 906.5 208.7 905.7 209.7 906C210.7 906.3 212 909.1 211.8 910.2C211.6 911.2 208.7 916.6 207.6 917.5C206.6 918.3 201.1 920 200.3 919.5C199.6 919.1 199.2 913.4 199.3 912.3C199.4 911.1 200 907.6 201 907.1ZM223.9 903.7C225.5 903.2 237.9 902.9 239.5 903.3C241.2 903.7 241.8 906.9 241.6 907.9C241.4 908.9 238.8 913.6 237.5 914.1C236.1 914.6 228.4 913.5 227.1 913.1C225.7 912.6 223.2 909.8 222.9 908.9C222.6 908.1 222.4 904.2 223.9 903.7ZM233.7 914.9C234.5 914 241.1 913.3 242.1 913.8C243 914.4 244.3 919.9 244.1 921.1C244 922.3 240.9 927.2 240 927.3C239 927.5 234.3 924.3 233.7 923.2C233.2 922 233 915.7 233.7 914.9ZM211.8 927C213.1 925.8 224.7 922.5 226.4 922.8C228.1 923.1 230.5 928.9 230.6 930.1C230.7 931.3 229.1 935.9 227.4 936.3C225.8 936.8 214.3 936.2 212.9 935.3C211.4 934.4 210.6 928.1 211.8 927ZM243.7 925.1C244.6 924.3 251.1 923.2 252.1 924C253 924.9 254.1 932.7 254.1 934.4C254.1 936.2 252.8 942.2 252.1 942.8C251.3 943.3 246.7 941.6 245.8 940.7C245 939.7 242.9 933.8 242.7 932.4C242.5 930.9 242.9 925.8 243.7 925.1ZM264.8 945.9C265.5 945.3 271.3 944.4 272.1 944.9C272.8 945.3 273.5 950.3 273.1 951.1C272.7 951.9 268.7 953.8 267.9 953.8C267.2 953.8 265.1 951.8 264.8 951.1C264.5 950.4 264.1 946.5 264.8 945.9ZM285 910.4C286.2 909.7 295.1 907.5 296.5 907.9C297.9 908.3 300.6 913.2 300.6 914.6C300.6 916 297.6 922.2 296.5 922.9C295.3 923.6 289.3 923.2 288.2 922.5C287.1 921.8 284.7 916.7 284.4 915.6C284.1 914.5 283.9 911.1 285 910.4ZM301.6 912.7C302.5 911.6 310 910.9 311 911.7C311.9 912.4 312.4 919.8 312 921C311.6 922.3 307.8 925 306.8 925.2C305.7 925.4 301 924.2 300.6 923.1C300.1 922 300.6 913.7 301.6 912.7ZM349.5 903.7C350.6 903 359.8 900.8 360.9 901.6C362.1 902.5 362.6 911.9 362 913.1C361.3 914.2 354.8 914.5 353.6 914.1C352.4 913.7 349.2 909.9 348.9 908.9C348.5 907.9 348.4 904.4 349.5 903.7ZM353.9 947.1C354.4 946 361.4 945.1 362.2 946.1C363 947 362.8 956.4 362.2 957.5C361.6 958.7 356.7 959.5 356 958.6C355.2 957.6 353.3 948.3 353.9 947.1ZM254.9 977.1C257.7 976 275.5 977.6 277.7 977.9C280 978.2 281.2 979.5 279.8 980.6C278.5 981.7 266 988.1 263.2 990C260.4 991.8 250.7 1000 249 1000.4C247.4 1000.7 245.7 995.2 245.5 994.1C245.3 993.1 245.7 990.5 246.5 988.9C247.4 987.3 252 978.1 254.9 977.1ZM199.4 999.5C200.3 998.2 208.5 997.9 209.8 998.4C211.1 999 214 1004.5 214 1005.7C214 1007 211.1 1011.4 209.8 1012C208.5 1012.5 200.3 1013.1 199.4 1012C198.4 1010.8 198.4 1000.7 199.4 999.5ZM233.7 999.9C234.4 998.7 239.1 997.8 239.9 998.9C240.8 1000 242.9 1010 243.1 1012.4C243.2 1014.8 242.6 1023.6 242 1024.9C241.4 1026.2 237.7 1028.1 236.8 1027C236 1025.8 232.9 1014.9 232.7 1012.4C232.4 1009.9 233 1001.2 233.7 999.9ZM246 1026.4C247.1 1025.4 255.1 1026 256.4 1026.4C257.8 1026.8 260.8 1028.8 260.6 1030.6C260.4 1032.3 255.6 1043.6 254.3 1045.1C253.1 1046.6 247.9 1048 247.1 1047.2C246.2 1046.4 245.1 1038.7 245 1036.8C244.9 1034.9 245 1027.3 246 1026.4ZM324.1 1015.1C325.2 1014.1 334.9 1013.1 336.6 1014.1C338.3 1015 342.8 1024.1 342.9 1025.5C343 1026.9 339.3 1029.7 337.7 1029.7C336.1 1029.7 326.4 1026.9 325.2 1025.5C323.9 1024.2 323.1 1016.2 324.1 1015.1ZM323.1 1030.8C324.6 1029.5 338.8 1031.1 340.8 1031.8C342.8 1032.6 345.7 1037.7 344.9 1039.1C344.2 1040.5 334.4 1046.8 332.5 1047.4C330.5 1048 325 1046.9 324.1 1045.3C323.3 1043.8 321.6 1032 323.1 1030.8ZM358.2 1026C358.5 1025.4 361.9 1025.3 362.3 1026C362.7 1026.8 362.6 1033.7 362.3 1034.4C362 1035 359.6 1034.1 359.2 1033.3C358.8 1032.6 357.9 1026.7 358.2 1026Z" fill="#df66a2" stroke="#df66a2" stroke-width="0.8" stroke-linejoin="round"/>
<path d="M212.6 916.9C213.6 916.3 220.9 915.6 222 915.9C223 916.2 224.3 919.3 224.1 920.1C223.8 920.8 220 923.9 218.9 924.2C217.7 924.5 212.1 923.9 211.6 923.2C211 922.5 211.7 917.6 212.6 916.9ZM255.8 939.2C256.5 938.7 261.4 937.6 262.1 938.2C262.8 938.8 263.5 944.6 263.1 945.5C262.7 946.3 258.7 947.7 257.9 947.6C257.2 947.5 255 945.2 254.8 944.4C254.6 943.7 255.2 939.8 255.8 939.2ZM225.9 948.7C226.9 947.7 234.3 948.6 235.3 949.8C236.3 950.9 236.9 959 236.8 961.2C236.7 963.4 235.1 972.7 234.3 973.7C233.5 974.8 228.9 973.8 228 972.7C227.1 971.5 224.5 963.4 224.3 961.2C224.1 959 224.9 949.8 225.9 948.7ZM253.8 968.2C255 967.5 265 966.6 266.3 967.1C267.7 967.6 269.3 972.6 268.4 973.4C267.5 974.1 258.3 975.3 257 975.4C255.6 975.5 254.1 975.1 253.8 974.4C253.6 973.7 252.7 968.8 253.8 968.2ZM304.3 987.2C305.7 986.6 316.9 985 318.1 985.8C319.3 986.5 318.1 994.2 317.4 995.6C316.8 996.9 312.2 1000.6 311.2 1000.8C310.1 1001 306.7 998.4 306 997.6C305.3 996.9 303.7 993.4 303.5 992.4C303.3 991.5 303 987.8 304.3 987.2ZM346.2 984C346.8 982.9 353.4 982 354.5 983C355.5 983.9 357.7 992.8 357.6 994.4C357.5 996 354.4 1000.6 353.4 1000.6C352.5 1000.6 347.9 995.9 347.2 994.4C346.5 992.9 345.5 985 346.2 984ZM341.7 1008.3C342.5 1007.2 350 1004.6 351.1 1005.2C352.1 1005.7 353.4 1013.2 353.1 1014.5C352.9 1015.9 348.9 1019.5 347.9 1019.7C347 1019.9 343.3 1017.7 342.7 1016.6C342.2 1015.6 340.9 1009.3 341.7 1008.3ZM246.2 1050.6C247.5 1049.4 259.1 1047.5 260.8 1048.5C262.4 1049.6 265.2 1060.8 263.9 1062C262.5 1063.3 247.8 1063.1 246.2 1062C244.6 1061 244.9 1051.8 246.2 1050.6Z" fill="#dc5e9c" stroke="#dc5e9c" stroke-width="0.8" stroke-linejoin="round"/>
<path d="M198.6 925.9C199 925.3 202.4 926.4 202.8 926.9C203.1 927.5 202.5 931.6 202.1 932.1C201.7 932.7 198.9 933.7 198.6 933.2C198.3 932.6 198.2 926.5 198.6 925.9ZM270.4 930.5C271.2 929.4 276.8 928.8 277.7 929.4C278.5 930.1 279.9 936.5 279.8 937.8C279.6 939 276.6 942.7 275.6 943C274.6 943.3 269.8 942 269.4 940.9C268.9 939.7 269.6 931.5 270.4 930.5ZM295 898.8C295.9 898.2 304.3 898.2 305.4 898.8C306.5 899.3 307.4 903.6 307.1 904.4C306.8 905.1 303.3 907 302.3 907.1C301.3 907.1 296.7 905.8 296.1 905C295.4 904.2 294.2 899.3 295 898.8ZM291.6 925.9C292.2 925.2 298 924.4 298.8 924.8C299.7 925.3 301.1 930.2 300.9 931.1C300.7 931.9 297.6 934.1 296.8 934.2C296 934.3 292.7 932.9 292.2 932.1C291.7 931.4 290.9 926.6 291.6 925.9ZM299.5 930.4C300.8 929.4 310.6 928.2 312 928.8C313.3 929.3 314.4 935.5 314.1 936.7C313.7 937.8 309.3 941 307.8 941.2C306.3 941.5 298.2 940.8 297.4 939.8C296.7 938.8 298.2 931.4 299.5 930.4ZM321.9 916.1C322.5 914.9 330.8 914.3 332.3 915C333.7 915.7 337.4 922 337.5 923.3C337.5 924.7 334.4 929.2 333.3 929.6C332.1 930 326 929.2 325 927.9C323.9 926.7 321.2 917.2 321.9 916.1ZM238.2 975C239.6 974.6 250.4 975.5 251.8 976C253.1 976.6 253.4 980.2 252.8 981.2C252.2 982.3 246.8 987 245.5 987.5C244.2 988 239.7 987.1 238.9 986.4C238.1 985.8 236.8 981.3 236.8 980.2C236.7 979.2 236.9 975.4 238.2 975ZM201.5 967.3C202.4 966.5 209.8 965.7 210.8 966.2C211.9 966.7 213.1 971.1 212.9 972.5C212.7 973.8 209.7 979.8 208.7 980.8C207.8 981.7 203.3 983.4 202.5 982.9C201.7 982.3 200.5 976 200.4 974.5C200.3 973.1 200.5 968 201.5 967.3ZM204.9 981.6C206.2 980.8 216.9 978.2 218.4 978.5C220 978.8 222 983.3 221.6 984.8C221.1 986.2 214.7 993.2 213.2 994.1C211.8 995.1 206.8 995.7 205.9 995.2C205.1 994.6 204 989.1 203.9 987.9C203.8 986.6 203.6 982.5 204.9 981.6ZM218.2 987.3C218.9 985.9 225.4 983.5 226.5 984.1C227.7 984.8 230.8 992.8 230.7 994.5C230.6 996.3 226.6 1002.5 225.5 1002.9C224.5 1003.2 219.9 1000.1 219.3 998.7C218.6 997.3 217.6 988.6 218.2 987.3ZM306.2 959.5C307 958.3 313.3 957 314.5 957.4C315.7 957.8 318.7 962.3 319.1 963.6C319.4 965 318.9 970.9 318.2 972C317.5 973.1 312.5 975.9 311.4 975.7C310.2 975.5 306.2 971.4 305.7 969.9C305.3 968.4 305.3 960.6 306.2 959.5ZM328 959.6C328.5 958.1 333.2 958.1 334.6 959.2C336 960.4 342.7 970.6 342.9 972.1C343.2 973.6 339.1 974.8 337.7 975.2C336.4 975.6 329.3 977.7 328.4 976.3C327.5 974.8 327.4 961.2 328 959.6ZM327.5 1001.4C329 1000.3 341.2 994.3 343.1 994.1C345 993.9 348.3 998.1 348.3 999.3C348.3 1000.6 344.7 1006.6 343.1 1007.7C341.5 1008.7 332.1 1010.9 330.6 1010.8C329.1 1010.7 327.1 1007.5 326.9 1006.6C326.6 1005.8 326 1002.6 327.5 1001.4ZM359.2 1004.2C359.5 1002.5 362.1 1002.3 362.3 1004.2C362.6 1006.1 362.6 1023.3 362.3 1025C362.1 1026.7 359.5 1024.8 359.2 1022.9C358.9 1021 358.9 1005.9 359.2 1004.2ZM252.7 1009.6C253.8 1008.8 261.8 1007.7 263.1 1008.6C264.3 1009.4 266.4 1017.4 266.2 1019C266 1020.5 262.1 1024.8 261 1025.2C259.8 1025.6 254.7 1023.9 253.7 1023.1C252.8 1022.4 250.7 1018.1 250.6 1016.9C250.5 1015.6 251.5 1010.4 252.7 1009.6ZM337.6 1046.2C338.9 1044 350.2 1036.8 352.1 1036.8C354 1036.8 358.1 1044.3 358.4 1046.2C358.7 1048 356.4 1055.1 355.3 1056.6C354.1 1058 347.5 1061.4 345.9 1061.8C344.3 1062.1 338.3 1062.1 337.6 1060.7C336.8 1059.3 336.2 1048.3 337.6 1046.2Z" fill="#e270a8" stroke="#e270a8" stroke-width="0.8" stroke-linejoin="round"/>
<path d="M231.5 932.5C232.3 931.8 238.9 930 239.8 930.4C240.6 930.8 241.2 935.8 240.8 936.7C240.4 937.5 236.6 939.7 235.6 939.8C234.7 939.9 230.8 938.4 230.4 937.7C230 937 230.6 933.2 231.5 932.5ZM260.4 918.5C261.3 917.6 266.6 916.6 267.7 917.4C268.8 918.3 272.1 925.9 272.3 927.8C272.5 929.7 270.7 937.5 269.8 938.2C268.9 939 263.6 937.2 262.5 936.2C261.5 935.1 258.5 928.4 258.3 926.8C258.2 925.2 259.6 919.3 260.4 918.5ZM357.1 915.9C357.5 915.2 361.8 915.1 362.3 915.9C362.8 916.7 362.7 923.5 362.3 924.2C361.9 924.9 358.6 923.9 358.1 923.2C357.7 922.4 356.7 916.6 357.1 915.9ZM331.8 928.2C332.4 927.1 339.9 926 341.2 926.6C342.4 927.1 345.2 933.3 345.3 934.5C345.4 935.7 343.2 939.3 342.2 939.7C341.3 940 335.9 939.7 334.9 938.6C334 937.6 331.2 929.3 331.8 928.2ZM209.5 942.9C210.6 941.9 222.6 944.1 224.1 944.9C225.6 945.8 226.6 951 226.2 952.2C225.7 953.5 220.2 958.2 218.9 958.5C217.6 958.8 213.1 956.8 212.2 955.4C211.4 953.9 208.4 943.8 209.5 942.9ZM244.8 955.2C245.9 954.1 249.6 955.3 251 956.2C252.4 957.2 259.9 964.5 260.4 965.6C260.9 966.7 258.1 968.1 256.2 968.7C254.3 969.4 241.6 973 240 972.9C238.4 972.8 238.1 969.3 238.5 967.7C239 966.1 243.6 956.2 244.8 955.2ZM284 991.7C285 990.9 292.7 990.3 294.4 990.6C296 990.9 301.5 993.6 301.6 994.8C301.8 995.9 297.8 1002.2 296.4 1003.1C295.1 1004.1 288.3 1005.6 287.1 1005.2C285.9 1004.8 283.8 1000.2 283.5 999C283.3 997.7 283 992.4 284 991.7ZM288.5 1003.9C290.4 1002.8 305.3 999.5 307.3 999.7C309.3 999.9 311 1004.4 310.4 1006C309.8 1007.5 302.7 1015.3 301 1016.4C299.3 1017.5 293 1018.5 291.7 1018C290.4 1017.6 287.2 1012.5 286.9 1011.2C286.6 1009.9 286.7 1004.9 288.5 1003.9Z" fill="#de62a0" stroke="#de62a0" stroke-width="0.8" stroke-linejoin="round"/>
<path d="M199.5 1008.7C201.3 1003.6 216.6 1005.9 219 1006.5C221.3 1007.1 224.1 1013 225.5 1015.2C226.8 1017.3 233.1 1027.7 234.1 1030.3C235.1 1032.8 236.6 1040.5 236.2 1043.2C235.8 1046 233.1 1058.8 229.8 1060.5C226.4 1062.2 202.3 1066.3 199.5 1061.6C196.8 1056.8 197.8 1013.7 199.5 1008.7Z" fill="#df63a0" stroke="#df63a0" stroke-width="1" stroke-linejoin="round"/>
<path d="M198.9 1025.8L212.3 1023.5L225.6 1014.6M212.3 1023.5L216.7 1039.1L234.5 1030.2M216.7 1039.1L214.5 1061.4M203.4 1008L205.6 1025.8M198.9 1045.8L216.7 1039.1" fill="none" stroke="#f3b9d2" stroke-width="0.9" stroke-linejoin="round"/>
<path d="M267.1 1012.8C269.1 1012.2 285.4 1013.8 287.7 1014.9C289.9 1016.1 291.7 1024 292 1025.7C292.3 1027.5 291.7 1033.5 290.9 1034.4C290.1 1035.3 285.4 1035.8 283.3 1035.5C281.3 1035.1 269.8 1031.3 268.2 1030.1C266.6 1028.8 266.2 1023 266.1 1021.4C266 1019.8 265.2 1013.4 267.1 1012.8Z" fill="#df63a0" stroke="#df63a0" stroke-width="1" stroke-linejoin="round"/>
<path d="M266.8 1022.4L279 1023.5L291.2 1029.1M279 1014.6L279 1023.5L281.2 1035.1" fill="none" stroke="#f3b9d2" stroke-width="0.9" stroke-linejoin="round"/>
<path d="M264.9 1035.1C267 1033.8 285.3 1037.2 287.6 1038.4C289.9 1039.5 290 1045.9 289.8 1048.1C289.6 1050.2 287 1060.8 285.4 1062.1C283.9 1063.4 274.4 1063 272.5 1062.1C270.6 1061.2 265.6 1054.9 264.9 1052.4C264.2 1049.9 262.9 1036.4 264.9 1035.1Z" fill="#df63a0" stroke="#df63a0" stroke-width="1" stroke-linejoin="round"/>
<path d="M264.5 1045.8L276.8 1048L289.7 1045.8M276.8 1036.9L276.8 1048L279 1062.5" fill="none" stroke="#f3b9d2" stroke-width="0.9" stroke-linejoin="round"/>
<path d="M296.7 1023.9C298.5 1021.5 312.3 1012.5 314.4 1013.1C316.6 1013.7 319 1027.6 319.8 1030.4C320.6 1033.2 323.6 1041.6 323.1 1043.3C322.6 1045.1 316.6 1048.8 314.4 1049.8C312.3 1050.8 301.1 1055.1 299.3 1054.1C297.6 1053.1 295.3 1041.8 295 1039C294.8 1036.3 295 1026.3 296.7 1023.9Z" fill="#df63a0" stroke="#df63a0" stroke-width="1" stroke-linejoin="round"/>
<path d="M295.7 1034.7L307.9 1032.4L320.2 1030.2M307.9 1016.9L307.9 1032.4L310.2 1051.4M296.8 1045.8L310.2 1042.5L323.1 1041.3" fill="none" stroke="#f3b9d2" stroke-width="0.9" stroke-linejoin="round"/>
<g fill="#5a2a60"><circle cx="250.8" cy="922.6" r="0.6"/><circle cx="209.3" cy="986.2" r="0.5"/><circle cx="206.9" cy="981.5" r="0.4"/><circle cx="268.9" cy="909.2" r="0.4"/><circle cx="267.4" cy="1034.2" r="0.4"/><circle cx="234.2" cy="1001.3" r="0.7"/><circle cx="292.6" cy="963.2" r="0.7"/><circle cx="205" cy="1039.4" r="0.5"/><circle cx="221.1" cy="917.1" r="0.5"/><circle cx="332.1" cy="927.5" r="0.6"/><circle cx="302.8" cy="959.2" r="0.6"/><circle cx="207.7" cy="907.5" r="0.5"/><circle cx="309.7" cy="968.3" r="0.5"/><circle cx="294" cy="972.5" r="0.5"/><circle cx="328.5" cy="1013.1" r="0.5"/><circle cx="292.2" cy="984.4" r="0.7"/><circle cx="317.8" cy="945.2" r="0.7"/><circle cx="216.8" cy="966.7" r="0.6"/><circle cx="222.4" cy="978.4" r="0.4"/><circle cx="307.7" cy="1023.9" r="0.6"/><circle cx="341.9" cy="949.5" r="0.6"/><circle cx="295.5" cy="993.4" r="0.5"/><circle cx="336.1" cy="1053.7" r="0.5"/><circle cx="307" cy="907.7" r="0.6"/><circle cx="304.2" cy="1061.7" r="0.6"/><circle cx="244.3" cy="961.4" r="0.6"/><circle cx="201" cy="973.9" r="0.5"/><circle cx="216.6" cy="907.4" r="0.6"/><circle cx="218.7" cy="938.6" r="0.5"/><circle cx="341.3" cy="911" r="0.5"/></g>
</g></g>
<g clip-path="url(#cj3)"><g filter="url(#soft)">
<rect x="360" y="890" width="180" height="180" fill="#e0599a"/>
<path d="M478.6 891.6L494.7 888.2M494.7 888.2L516.7 901.2M516.7 901.2L543 944.3M543 944.3L520.8 936.1M520.8 936.1L499.7 922.6M499.7 922.6L478.6 891.6M470.7 1022.4L448.9 1015.2M448.9 1015.2L439.3 1018.4M439.3 1018.4L445.4 1035.5M445.4 1035.5L488.7 1071.3M488.7 1071.3L493.5 1046.1M493.5 1046.1L470.7 1022.4M521.2 971.4L535.7 970.3M535.7 970.3L560.6 1020.7M560.6 1020.7L559.6 1025.7M559.6 1025.7L511.8 984.7M511.8 984.7L521.2 971.4M464.1 942.9L451.3 943.1M451.3 943.1L452.5 957.4M452.5 957.4L469.8 972.2M469.8 972.2L479.2 967.5M479.2 967.5L476.2 954.4M476.2 954.4L464.1 942.9M431.2 883L429.6 895.2M429.6 895.2L441.8 911.2M441.8 911.2L465.1 922.3M465.1 922.3L470.9 913.9M470.9 913.9L463.7 899.4M463.7 899.4L431.2 883M496.9 1012.5L492.9 991.4M492.9 991.4L483.6 986.6M483.6 986.6L480 1007.8M480 1007.8L495.3 1013.6M495.3 1013.6L496.9 1012.5M383.5 930.2L416.3 941.4M416.3 941.4L429.7 958.4M429.7 958.4L430.4 971.6M430.4 971.6L413.1 971.7M413.1 971.7L388.2 948.2M388.2 948.2L383.3 930.4M383.3 930.4L383.5 930.2M495.3 958.2L493.3 973.1M493.3 973.1L505.4 985.4M505.4 985.4L511.8 984.7M521.2 971.4L495.3 958.2M527.1 1058.1L547.5 1162.4M547.5 1162.4L640.5 1262.5M640.5 1262.5L827.6 1300.4M827.6 1300.4L627.2 1109.2M627.2 1109.2L527.1 1058.1M383.3 930.4L355.5 922.8M355.5 922.8L362.6 952.4M362.6 952.4L371.7 956.8M371.7 956.8L388.2 948.2M405.7 1048.2L428.4 1052.1M428.4 1052.1L445.4 1035.5M439.3 1018.4L421.7 1008.1M421.7 1008.1L404.6 1008.2M404.6 1008.2L405.7 1048.2M559.7 1027.1L559.6 1025.7M505.4 985.4L503.8 991.9M503.8 991.9L511.3 1001.5M511.3 1001.5L559.7 1027.1M480 1007.8L477.7 1007.6M477.7 1007.6L460 988.1M460 988.1L471.3 975.9M471.3 975.9L483.6 986.6M371.7 956.8L384.8 973.4M384.8 973.4L409.4 979.1M409.4 979.1L413.1 971.7M354.6 988L391.2 1054.1M391.2 1054.1L387.3 1063.4M387.3 1063.4L287.8 1019.6M287.8 1019.6L353.4 987.1M353.4 987.1L354.6 988M544.1 945.2L543 944.3M516.7 901.2L520 889.5M520 889.5L543.6 895.1M543.6 895.1L599 930.2M599 930.2L555.8 948.5M555.8 948.5L544.1 945.2M434.7 927.3L419.4 923.9M419.4 923.9L414.8 919M414.8 919L406.5 893.4M406.5 893.4L429.6 895.2M441.8 911.2L434.7 927.3M546.7 1034.4L523.7 1054.1M523.7 1054.1L509.4 1046M509.4 1046L507.4 1032.5M507.4 1032.5L525.3 1026.2M525.3 1026.2L546.7 1034.4M495.3 1013.6L507.4 1032.5M509.4 1046L493.5 1046.1M470.7 1022.4L477.7 1007.6M387.3 1063.4L400.2 1083.8M400.2 1083.8L525.7 1141.9M525.7 1141.9L503.9 1109.1M503.9 1109.1L428.4 1052.1M405.7 1048.2L391.2 1054.1M488.3 942.5L520.8 936.1M499.7 922.6L470.9 913.9M465.1 922.3L469.1 929.4M469.1 929.4L488.3 942.5M492.9 991.4L503.8 991.9M493.3 973.1L479.2 967.5M469.8 972.2L471.3 975.9M404.6 1008.2L381.3 992.1M381.3 992.1L354.6 988M468.1 892.1L476.2 890.7M476.2 890.7L478.6 891.6M463.7 899.4L468.1 892.1M464.1 942.9L469.1 929.4M488.3 942.5L493 955.9M493 955.9L476.2 954.4M383.5 930.2L377.5 904.6M377.5 904.6L333.2 842.2M333.2 842.2L-786.2 -296.1M-786.2 -296.1L250.6 848.8M250.6 848.8L355.5 922.8M451.3 943.1L434.7 927.3M452.5 957.4L429.7 958.4M430.4 971.6L440.3 981.1M440.3 981.1L460 988.1M448.9 1015.2L440.3 981.1M377.5 904.6L414.8 919M419.4 923.9L416.3 941.4M495.3 958.2L493 955.9M503.9 1109.1L488.7 1071.3M278.1 886.9L250.6 848.8M362.6 952.4L346.2 952.4M346.2 952.4L278.1 886.9M411.1 837.9L468.1 892.1M431.2 883L411.1 837.9M544.1 945.2L535.7 970.3M406.5 893.4L333.2 842.2M496.9 1012.5L509.8 1013.4M509.8 1013.4L525.3 1026.2M409.4 979.1L421.7 1008.1M543.6 895.1L486.5 769.1M486.5 769.1L520 889.5M511.3 1001.5L509.8 1013.4M546.7 1034.4L561.8 1034.1M561.8 1034.1L559.7 1027.1M384.8 973.4L381.3 992.1M561.8 1034.1L627.2 1109.2M527.1 1058.1L523.7 1054.1M525.7 1141.9L547.5 1162.4M555.8 948.5L603.8 1006.9M603.8 1006.9L560.6 1020.7M349.9 982.4L353.4 987.1M346.2 952.4L349.9 982.4" stroke="#f0a0c5" stroke-width="0.75" fill="none"/>
<path d="M367.2 900.5L390.2 911.1L409 920.5L425.5 931.1L437.2 940.5L460.7 940.5L479.5 938.1L495.9 935.8L514.7 942.8L531.1 954.5" stroke="#f7c6dc" stroke-width="2.53" fill="none" stroke-linejoin="round" stroke-linecap="round"/>
<path d="M425.5 898.2L444.2 900.5L460.7 913.4L477.1 918.1L493.6 922.8L505.3 914.6L517 905.2" stroke="#f7c6dc" stroke-width="2.3" fill="none" stroke-linejoin="round" stroke-linecap="round"/>
<path d="M367.2 933.4L380.8 947.5L394.9 963.9L406.7 973.3L425.5 963.9L437.2 959.2" stroke="#f7c6dc" stroke-width="1.8399999999999999" fill="none" stroke-linejoin="round" stroke-linecap="round"/>
<path d="M437.2 940.5L437.2 956.9L453.6 971L465.4 980.4L486.5 985.1L505.3 992.1L519.4 999.2L531.1 1005" stroke="#f7c6dc" stroke-width="2.3" fill="none" stroke-linejoin="round" stroke-linecap="round"/>
<path d="M465.4 980.4L470.1 1001.5L481.8 1020.3L493.6 1039.1L500.6 1062.6" stroke="#f7c6dc" stroke-width="1.8399999999999999" fill="none" stroke-linejoin="round" stroke-linecap="round"/>
<path d="M367.2 975.7L380.8 985.1L387.9 1001.5L394.9 1022.7L406.7 1039.1L418.4 1055.5L423.1 1062.6" stroke="#f7c6dc" stroke-width="1.6099999999999999" fill="none" stroke-linejoin="round" stroke-linecap="round"/>
<path d="M367.2 1010.9L376.1 1029.7L383.2 1048.5L392.6 1062.6" stroke="#f7c6dc" stroke-width="1.6099999999999999" fill="none" stroke-linejoin="round" stroke-linecap="round"/>
<path d="M397.3 978L411.4 1001.5L416.1 1020.3L423.1 1034.4L437.2 1048.5L453.6 1062.6" stroke="#f7c6dc" stroke-width="1.265" fill="none" stroke-linejoin="round" stroke-linecap="round"/>
<path d="M406.7 973.3L423.1 987.4L439.5 1003.9L458.3 1006.2L470.1 1008.6" stroke="#f7c6dc" stroke-width="1.265" fill="none" stroke-linejoin="round" stroke-linecap="round"/>
<path d="M479.5 938.1L475.9 959.2L479.5 978" stroke="#f7c6dc" stroke-width="1.265" fill="none" stroke-linejoin="round" stroke-linecap="round"/>
<path d="M493.6 922.8L495.9 935.8" stroke="#f7c6dc" stroke-width="1.4949999999999999" fill="none" stroke-linejoin="round" stroke-linecap="round"/>
<path d="M448.9 914.6L446.6 935.8" stroke="#f7c6dc" stroke-width="1.15" fill="none" stroke-linejoin="round" stroke-linecap="round"/>
<path d="M505.3 992.1L519.4 1020.3L531.1 1029.7" stroke="#f7c6dc" stroke-width="1.15" fill="none" stroke-linejoin="round" stroke-linecap="round"/>
<path d="M394.9 898.2L409 920.5" stroke="#f7c6dc" stroke-width="1.15" fill="none" stroke-linejoin="round" stroke-linecap="round"/>
<path d="M448.9 1022.7L451.3 1041.4L458.3 1062.6" stroke="#f7c6dc" stroke-width="1.15" fill="none" stroke-linejoin="round" stroke-linecap="round"/>
<g fill="#7a1f62"><circle cx="443.1" cy="959.3" r="0.6"/><circle cx="509.3" cy="898.8" r="0.7"/><circle cx="514.5" cy="911" r="0.7"/><circle cx="468.3" cy="904.5" r="0.7"/><circle cx="482.6" cy="972.3" r="0.8"/><circle cx="393" cy="937" r="0.5"/><circle cx="450.2" cy="1050.2" r="0.7"/><circle cx="494.2" cy="961" r="0.8"/><circle cx="383.9" cy="945.8" r="0.8"/><circle cx="486.2" cy="967.3" r="0.5"/><circle cx="410.9" cy="932.4" r="0.6"/><circle cx="500" cy="930.6" r="0.9"/><circle cx="511.4" cy="906.7" r="0.7"/><circle cx="447.8" cy="901.6" r="0.7"/><circle cx="515.9" cy="916.2" r="0.7"/><circle cx="387.1" cy="993.2" r="0.9"/><circle cx="400.5" cy="899.1" r="0.5"/><circle cx="455.7" cy="900.6" r="0.5"/><circle cx="448.7" cy="1049.7" r="0.7"/><circle cx="432.5" cy="1003.2" r="0.5"/><circle cx="462.3" cy="926.2" r="0.7"/><circle cx="524.4" cy="906.6" r="0.7"/><circle cx="466.6" cy="922.4" r="0.6"/><circle cx="530.4" cy="1062.5" r="0.5"/><circle cx="482.9" cy="1054.7" r="0.6"/><circle cx="467.4" cy="904.8" r="0.6"/><circle cx="477.8" cy="995.2" r="0.8"/><circle cx="381.4" cy="955" r="0.8"/><circle cx="463" cy="972.2" r="0.7"/><circle cx="528.9" cy="992.5" r="0.5"/><circle cx="498.3" cy="952" r="0.7"/><circle cx="402.2" cy="971" r="0.6"/><circle cx="381.8" cy="1001.6" r="0.5"/><circle cx="495.8" cy="901.9" r="0.8"/><circle cx="499.6" cy="979.8" r="0.8"/><circle cx="407.9" cy="1019.5" r="0.7"/><circle cx="405.1" cy="1056.9" r="0.7"/><circle cx="428.4" cy="1039.7" r="0.6"/><circle cx="476.7" cy="925.9" r="0.8"/><circle cx="409.7" cy="906" r="0.9"/><circle cx="395.5" cy="1054" r="0.9"/><circle cx="466.7" cy="899.7" r="0.5"/><circle cx="401.4" cy="961.9" r="0.7"/><circle cx="525.7" cy="956.2" r="0.6"/><circle cx="459.4" cy="920.4" r="0.5"/><circle cx="458.4" cy="1012.6" r="0.5"/><circle cx="441.2" cy="1013.9" r="0.8"/><circle cx="430" cy="1044.2" r="0.6"/><circle cx="484.5" cy="1025.1" r="0.9"/><circle cx="448.3" cy="914.1" r="0.5"/><circle cx="453.9" cy="926.3" r="0.8"/><circle cx="381" cy="1026.5" r="0.6"/><circle cx="369.3" cy="926.7" r="0.7"/><circle cx="458.9" cy="961.8" r="0.6"/><circle cx="446.3" cy="1054" r="0.7"/><circle cx="521.6" cy="902.5" r="0.9"/><circle cx="513" cy="987.6" r="0.7"/><circle cx="455.3" cy="1047.9" r="0.5"/><circle cx="472.6" cy="987.2" r="0.6"/><circle cx="486.1" cy="1016.7" r="0.5"/><circle cx="481.9" cy="972.6" r="0.7"/><circle cx="471.6" cy="906.4" r="0.7"/><circle cx="428.4" cy="1042.8" r="0.6"/><circle cx="502.2" cy="1018.2" r="0.7"/><circle cx="510.8" cy="903.6" r="0.7"/><circle cx="467.8" cy="1009.6" r="0.7"/><circle cx="378.5" cy="928.9" r="0.7"/><circle cx="396.9" cy="908.4" r="0.6"/><circle cx="444.3" cy="986.1" r="0.5"/><circle cx="494.4" cy="952.8" r="0.8"/><circle cx="368.6" cy="1055.2" r="0.7"/><circle cx="527.3" cy="1060.5" r="0.8"/><circle cx="384.6" cy="955.3" r="0.6"/><circle cx="495.1" cy="929.4" r="0.6"/><circle cx="385.3" cy="917.5" r="0.9"/><circle cx="527.3" cy="959.2" r="0.8"/><circle cx="443.9" cy="983.9" r="0.6"/><circle cx="471.3" cy="936.7" r="0.6"/><circle cx="452.1" cy="930.3" r="0.7"/><circle cx="522" cy="901.4" r="0.5"/><circle cx="498.4" cy="907.2" r="0.6"/><circle cx="506.9" cy="997.6" r="0.6"/><circle cx="376.8" cy="943.1" r="0.6"/><circle cx="498.4" cy="1058.8" r="0.8"/><circle cx="515.1" cy="1051.4" r="0.9"/><circle cx="518.1" cy="1057.4" r="0.5"/><circle cx="419.3" cy="938.5" r="0.7"/><circle cx="447.8" cy="955" r="0.8"/><circle cx="432.7" cy="932.2" r="0.6"/><circle cx="442.9" cy="998.5" r="0.7"/><circle cx="439.3" cy="928.5" r="0.7"/><circle cx="420.5" cy="925.9" r="0.7"/><circle cx="398.1" cy="1015.2" r="0.8"/><circle cx="389.8" cy="1000.9" r="0.6"/><circle cx="440.5" cy="997.8" r="0.8"/><circle cx="512.1" cy="1018.8" r="0.6"/><circle cx="456.1" cy="953.1" r="0.5"/><circle cx="457.8" cy="975.4" r="0.8"/><circle cx="420.3" cy="1035.3" r="0.7"/><circle cx="383.5" cy="1016.1" r="0.6"/><circle cx="454.7" cy="909.5" r="0.5"/><circle cx="518.2" cy="904.6" r="0.6"/><circle cx="394" cy="913.6" r="0.8"/><circle cx="530.4" cy="1004.9" r="0.7"/><circle cx="512.9" cy="981.3" r="0.6"/><circle cx="480.4" cy="957" r="0.6"/><circle cx="419.8" cy="961.3" r="0.6"/><circle cx="467.7" cy="1041.1" r="0.7"/><circle cx="368.7" cy="1010.7" r="0.5"/><circle cx="445.7" cy="1040.6" r="0.8"/></g>
<line x1="510" y1="1058.4" x2="527.6" y2="1058.4" stroke="#fbe6ee" stroke-width="1.4"/>
</g></g>
<text x="102.5" y="894" font-size="12.6" fill="#141414" text-anchor="middle">Sham</text>
<text x="289.5" y="894" font-size="12.6" fill="#141414" text-anchor="middle">Injury</text>
<text x="448.2" y="894.5" font-size="12.6" fill="#141414" text-anchor="middle">Injury + Se-Se@HA</text>
</g>
<g id="labels">
<text x="24" y="27.4" font-size="17.5" fill="#111" font-weight="bold">a</text>
<text x="237" y="27.4" font-size="17.5" fill="#111" font-weight="bold">b</text>
<text x="25" y="261.2" font-size="17.5" fill="#111" font-weight="bold">c</text>
<text x="284.4" y="261.2" font-size="17.5" fill="#111" font-weight="bold">d</text>
<text x="543" y="271" font-size="17.5" fill="#111" font-weight="bold">e</text>
<text x="28" y="484.8" font-size="17.5" fill="#111" font-weight="bold">f</text>
<text x="27.5" y="691" font-size="17.5" fill="#111" font-weight="bold">g</text>
<text x="275.8" y="692.8" font-size="17.5" fill="#111" font-weight="bold">h</text>
<text x="530" y="693" font-size="17.5" fill="#111" font-weight="bold">i</text>
<text x="27" y="890" font-size="17.5" fill="#111" font-weight="bold">j</text>
<text x="542.2" y="893.2" font-size="17.5" fill="#111" font-weight="bold">k</text>
</g>
</svg>
</body>
</html>
